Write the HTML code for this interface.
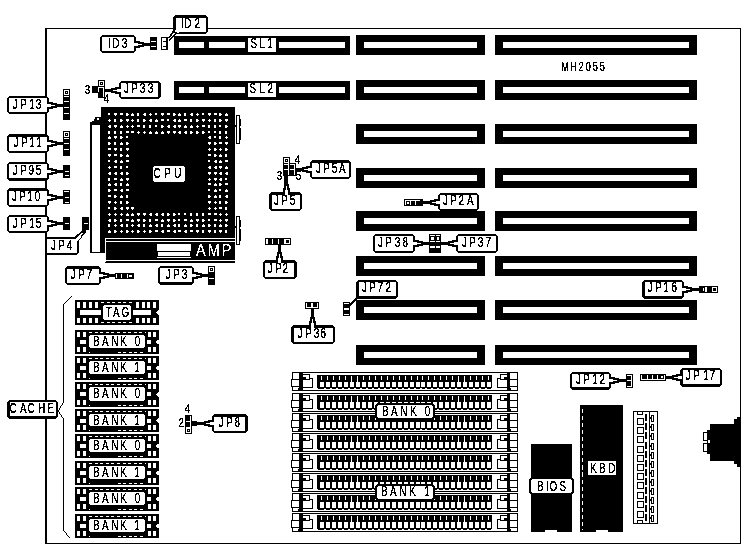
<!DOCTYPE html>
<html><head><meta charset="utf-8"><title>MH2055</title>
<style>
html,body{margin:0;padding:0;background:#fff;}
body{width:746px;height:549px;overflow:hidden;}
svg{display:block;}
svg text{font-family:"Liberation Sans",sans-serif;vector-effect:non-scaling-stroke;}
</style></head><body>
<svg width="746" height="549" viewBox="0 0 746 549" shape-rendering="crispEdges">
<defs><filter id="bw" x="0" y="0" width="100%" height="100%" color-interpolation-filters="sRGB"><feColorMatrix type="matrix" values="0.33 0.34 0.33 0 0  0.33 0.34 0.33 0 0  0.33 0.34 0.33 0 0  0 0 0 1 0"/><feComponentTransfer><feFuncR type="discrete" tableValues="0 0 0 0 0 1 1 1 1 1"/><feFuncG type="discrete" tableValues="0 0 0 0 0 1 1 1 1 1"/><feFuncB type="discrete" tableValues="0 0 0 0 0 1 1 1 1 1"/></feComponentTransfer></filter>
<filter id="tb" x="0" y="0" width="100%" height="100%" color-interpolation-filters="sRGB"><feComponentTransfer><feFuncA type="discrete" tableValues="0 0 0 0 0 0 0 0 0 1 1 1 1 1 1 1 1 1 1 1"/></feComponentTransfer></filter></defs>
<g filter="url(#bw)">
<rect x="0" y="0" width="746" height="549" fill="#fff"/>
<rect x="45" y="28" width="2" height="516" fill="#000"/>
<rect x="45" y="28" width="696" height="1" fill="#000"/>
<rect x="740" y="28" width="1" height="516" fill="#000"/>
<rect x="45" y="543" width="696" height="1" fill="#000"/>
<rect x="356" y="35" width="129" height="20" fill="#000"/>
<rect x="364" y="42" width="113" height="6" fill="#fff"/>
<rect x="495" y="35" width="202" height="20" fill="#000"/>
<rect x="503" y="42" width="186" height="6" fill="#fff"/>
<rect x="356" y="80" width="129" height="20" fill="#000"/>
<rect x="364" y="87" width="113" height="6" fill="#fff"/>
<rect x="495" y="80" width="202" height="20" fill="#000"/>
<rect x="503" y="87" width="186" height="6" fill="#fff"/>
<rect x="356" y="124" width="129" height="20" fill="#000"/>
<rect x="364" y="131" width="113" height="6" fill="#fff"/>
<rect x="495" y="124" width="202" height="20" fill="#000"/>
<rect x="503" y="131" width="186" height="6" fill="#fff"/>
<rect x="356" y="168" width="129" height="20" fill="#000"/>
<rect x="364" y="175" width="113" height="6" fill="#fff"/>
<rect x="495" y="168" width="202" height="20" fill="#000"/>
<rect x="503" y="175" width="186" height="6" fill="#fff"/>
<rect x="356" y="211" width="129" height="20" fill="#000"/>
<rect x="364" y="218" width="113" height="6" fill="#fff"/>
<rect x="495" y="211" width="202" height="20" fill="#000"/>
<rect x="503" y="218" width="186" height="6" fill="#fff"/>
<rect x="356" y="256" width="129" height="20" fill="#000"/>
<rect x="364" y="263" width="113" height="6" fill="#fff"/>
<rect x="495" y="256" width="202" height="20" fill="#000"/>
<rect x="503" y="263" width="186" height="6" fill="#fff"/>
<rect x="356" y="300" width="129" height="20" fill="#000"/>
<rect x="364" y="307" width="113" height="6" fill="#fff"/>
<rect x="495" y="300" width="202" height="20" fill="#000"/>
<rect x="503" y="307" width="186" height="6" fill="#fff"/>
<rect x="356" y="345" width="129" height="20" fill="#000"/>
<rect x="364" y="352" width="113" height="6" fill="#fff"/>
<rect x="495" y="345" width="202" height="20" fill="#000"/>
<rect x="503" y="352" width="186" height="6" fill="#fff"/>
<rect x="174" y="36" width="176" height="19" fill="#000"/>
<rect x="179" y="42" width="25" height="6" fill="#fff"/>
<rect x="209" y="42" width="136" height="6" fill="#fff"/>
<rect x="245" y="42" width="34" height="6" fill="#000"/>
<rect x="248" y="38" width="28" height="13.6" fill="#fff"/>
<rect x="174" y="81" width="176" height="19" fill="#000"/>
<rect x="179" y="87" width="25" height="6" fill="#fff"/>
<rect x="209" y="87" width="136" height="6" fill="#fff"/>
<rect x="245" y="87" width="34" height="6" fill="#000"/>
<rect x="248" y="83" width="28" height="14" fill="#fff"/>
<rect x="101" y="107" width="134" height="131" fill="#000"/>
<rect x="90" y="122" width="11" height="131" fill="#000"/>
<rect x="92" y="125" width="8" height="127" fill="#fff"/>
<rect x="90" y="123" width="11" height="2" fill="#000"/>
<rect x="92" y="121" width="9" height="2" fill="#000"/>
<rect x="94" y="119" width="7" height="2" fill="#000"/>
<rect x="95" y="117" width="6" height="2" fill="#000"/>
<rect x="97" y="118" width="2" height="2" fill="#fff"/>
<rect x="100" y="238" width="5" height="15" fill="#000"/>
<rect x="236" y="115" width="4" height="29" fill="#000"/>
<rect x="237" y="116" width="2" height="27" fill="#fff"/>
<rect x="240" y="119" width="1" height="7" fill="#000"/>
<rect x="240" y="128" width="1" height="12" fill="#000"/>
<rect x="235" y="125" width="1" height="2" fill="#000"/>
<rect x="236" y="216" width="4" height="29" fill="#000"/>
<rect x="237" y="217" width="2" height="27" fill="#fff"/>
<rect x="240" y="220" width="1" height="7" fill="#000"/>
<rect x="240" y="229" width="1" height="12" fill="#000"/>
<rect x="235" y="226" width="1" height="2" fill="#000"/>
<path d="M108 113h2v2h-2zM109 119h1v3h-1zM108 120h3v1h-3zM108 126h1v1h-1zM109 125h2v3h-2zM108 131h2v3h-2zM109 136h1v1h-1zM108 137h3v2h-3zM108 142h2v3h-2zM110 143h1v1h-1zM108 148h3v2h-3zM108 154h3v2h-3zM109 156h1v1h-1zM108 160h2v2h-2zM109 166h1v3h-1zM108 167h3v1h-3zM108 173h1v1h-1zM109 172h2v3h-2zM108 178h2v3h-2zM109 183h1v1h-1zM108 184h3v2h-3zM108 189h2v3h-2zM110 190h1v1h-1zM108 195h3v2h-3zM108 201h3v2h-3zM109 203h1v1h-1zM108 207h2v2h-2zM109 213h1v3h-1zM108 214h3v1h-3zM108 220h1v1h-1zM109 219h2v3h-2zM108 224h2v3h-2zM109 230h1v1h-1zM108 231h3v2h-3zM114 113h3v2h-3zM115 115h1v1h-1zM114 119h2v3h-2zM114 125h3v2h-3zM115 127h1v1h-1zM114 131h2v3h-2zM114 136h3v2h-3zM115 138h1v1h-1zM114 142h2v3h-2zM114 148h3v2h-3zM115 150h1v1h-1zM114 154h3v2h-3zM114 161h1v1h-1zM115 160h2v3h-2zM114 166h3v2h-3zM114 173h1v1h-1zM115 172h2v3h-2zM114 178h3v2h-3zM114 184h1v1h-1zM115 183h2v3h-2zM114 189h3v2h-3zM114 195h2v3h-2zM116 196h1v1h-1zM115 201h1v3h-1zM114 202h3v1h-3zM114 207h2v3h-2zM116 208h1v1h-1zM115 213h1v3h-1zM114 214h3v1h-3zM114 219h2v3h-2zM116 220h1v1h-1zM115 224h1v3h-1zM114 225h3v1h-3zM114 230h2v3h-2zM116 231h1v1h-1zM120 113h3v2h-3zM120 119h2v3h-2zM122 120h1v1h-1zM121 125h1v1h-1zM120 126h3v2h-3zM120 131h2v3h-2zM120 136h2v3h-2zM122 137h1v1h-1zM121 142h1v1h-1zM120 143h3v2h-3zM120 148h2v3h-2zM120 154h2v3h-2zM122 155h1v1h-1zM121 160h1v1h-1zM120 161h3v2h-3zM120 166h2v3h-2zM120 173h1v1h-1zM121 172h2v3h-2zM121 178h1v1h-1zM120 179h3v2h-3zM120 183h2v3h-2zM120 190h1v1h-1zM121 189h2v3h-2zM121 195h1v1h-1zM120 196h3v2h-3zM120 201h2v3h-2zM120 208h1v1h-1zM121 207h2v3h-2zM121 213h1v3h-1zM120 214h3v1h-3zM120 219h2v3h-2zM120 225h1v1h-1zM121 224h2v3h-2zM121 230h1v3h-1zM120 231h3v1h-3zM126 113h2v3h-2zM128 114h1v1h-1zM126 119h3v2h-3zM127 121h1v1h-1zM127 125h1v3h-1zM126 126h3v1h-3zM126 131h3v2h-3zM126 136h2v2h-2zM126 142h2v3h-2zM128 143h1v1h-1zM126 148h3v2h-3zM127 150h1v1h-1zM127 154h1v1h-1zM126 155h3v2h-3zM126 160h3v2h-3zM126 166h2v2h-2zM126 172h2v3h-2zM128 173h1v1h-1zM126 178h3v2h-3zM127 180h1v1h-1zM127 183h1v1h-1zM126 184h3v2h-3zM126 189h3v2h-3zM126 195h2v3h-2zM126 201h2v3h-2zM128 202h1v1h-1zM126 207h3v2h-3zM127 209h1v1h-1zM127 213h1v1h-1zM126 214h3v2h-3zM126 219h3v2h-3zM126 224h2v3h-2zM126 230h2v3h-2zM128 231h1v1h-1zM132 113h1v1h-1zM131 114h3v2h-3zM132 119h1v3h-1zM131 120h3v1h-3zM132 125h1v3h-1zM131 126h3v1h-3zM131 131h3v2h-3zM131 207h3v2h-3zM132 209h1v1h-1zM132 213h1v1h-1zM131 214h3v2h-3zM132 219h1v1h-1zM131 220h3v2h-3zM132 224h1v3h-1zM131 225h3v1h-3zM132 230h1v3h-1zM131 231h3v1h-3zM137 113h2v3h-2zM137 119h2v3h-2zM137 125h3v2h-3zM138 131h1v3h-1zM137 132h3v1h-3zM137 213h3v2h-3zM138 215h1v1h-1zM137 219h3v2h-3zM138 221h1v1h-1zM137 225h1v1h-1zM138 224h2v3h-2zM137 230h2v3h-2zM139 231h1v1h-1zM143 114h1v1h-1zM144 113h2v3h-2zM143 119h2v3h-2zM145 120h1v1h-1zM143 125h2v3h-2zM144 131h1v3h-1zM143 132h3v1h-3zM143 213h3v2h-3zM144 215h1v1h-1zM143 219h2v3h-2zM145 220h1v1h-1zM143 224h2v3h-2zM144 230h1v3h-1zM143 231h3v1h-3zM150 113h1v3h-1zM149 114h3v1h-3zM149 120h1v1h-1zM150 119h2v3h-2zM149 125h2v3h-2zM150 131h1v1h-1zM149 132h3v2h-3zM149 214h1v1h-1zM150 213h2v3h-2zM149 219h2v3h-2zM150 224h1v1h-1zM149 225h3v2h-3zM149 230h2v3h-2zM151 231h1v1h-1zM155 113h2v2h-2zM156 119h1v1h-1zM155 120h3v2h-3zM155 125h2v2h-2zM156 131h1v1h-1zM155 132h3v2h-3zM155 214h1v1h-1zM156 213h2v3h-2zM155 219h3v2h-3zM155 225h1v1h-1zM156 224h2v3h-2zM155 230h3v2h-3zM161 113h3v2h-3zM162 115h1v1h-1zM161 119h3v2h-3zM161 125h2v3h-2zM163 126h1v1h-1zM162 131h1v1h-1zM161 132h3v2h-3zM161 214h1v1h-1zM162 213h2v3h-2zM162 219h1v1h-1zM161 220h3v2h-3zM161 224h2v3h-2zM161 231h1v1h-1zM162 230h2v3h-2zM167 113h3v2h-3zM167 119h2v2h-2zM167 126h1v1h-1zM168 125h2v3h-2zM167 131h3v2h-3zM168 133h1v1h-1zM167 213h2v3h-2zM169 214h1v1h-1zM167 219h3v2h-3zM168 221h1v1h-1zM168 224h1v1h-1zM167 225h3v2h-3zM167 230h3v2h-3zM173 113h2v3h-2zM175 114h1v1h-1zM173 120h1v1h-1zM174 119h2v3h-2zM173 126h1v1h-1zM174 125h2v3h-2zM173 131h3v2h-3zM174 133h1v1h-1zM173 213h2v3h-2zM175 214h1v1h-1zM173 219h2v3h-2zM175 220h1v1h-1zM173 225h1v1h-1zM174 224h2v3h-2zM173 231h1v1h-1zM174 230h2v3h-2zM179 113h1v1h-1zM178 114h3v2h-3zM179 119h1v1h-1zM178 120h3v2h-3zM178 125h3v2h-3zM179 127h1v1h-1zM178 132h1v1h-1zM179 131h2v3h-2zM178 213h2v2h-2zM178 219h2v2h-2zM178 224h2v3h-2zM178 230h3v2h-3zM184 113h2v3h-2zM184 119h3v2h-3zM185 125h1v1h-1zM184 126h3v2h-3zM184 132h1v1h-1zM185 131h2v3h-2zM184 213h2v2h-2zM184 219h3v2h-3zM185 224h1v1h-1zM184 225h3v2h-3zM184 231h1v1h-1zM185 230h2v3h-2zM190 114h1v1h-1zM191 113h2v3h-2zM190 119h2v3h-2zM191 125h1v1h-1zM190 126h3v2h-3zM190 131h2v3h-2zM192 132h1v1h-1zM190 213h2v3h-2zM191 219h1v1h-1zM190 220h3v2h-3zM190 224h2v3h-2zM192 225h1v1h-1zM190 230h3v2h-3zM197 113h1v3h-1zM196 114h3v1h-3zM196 119h2v3h-2zM198 120h1v1h-1zM197 125h1v3h-1zM196 126h3v1h-3zM196 131h2v3h-2zM198 132h1v1h-1zM196 213h2v3h-2zM196 219h3v2h-3zM197 221h1v1h-1zM196 224h2v3h-2zM196 230h3v2h-3zM197 232h1v1h-1zM202 113h2v2h-2zM202 119h3v2h-3zM203 121h1v1h-1zM202 125h3v2h-3zM202 131h2v3h-2zM204 132h1v1h-1zM202 213h2v3h-2zM202 219h2v3h-2zM204 220h1v1h-1zM203 224h1v1h-1zM202 225h3v2h-3zM202 230h2v3h-2zM208 113h3v2h-3zM209 115h1v1h-1zM209 119h1v3h-1zM208 120h3v1h-3zM208 125h2v3h-2zM208 131h2v2h-2zM208 137h1v1h-1zM209 136h2v3h-2zM208 142h3v2h-3zM209 144h1v1h-1zM209 148h1v3h-1zM208 149h3v1h-3zM208 154h3v2h-3zM208 160h2v2h-2zM208 167h1v1h-1zM209 166h2v3h-2zM208 172h3v2h-3zM209 174h1v1h-1zM209 178h1v3h-1zM208 179h3v1h-3zM208 183h3v2h-3zM208 189h2v2h-2zM208 195h2v3h-2zM210 196h1v1h-1zM208 201h3v2h-3zM209 203h1v1h-1zM209 207h1v3h-1zM208 208h3v1h-3zM208 213h3v2h-3zM208 219h2v2h-2zM208 224h2v3h-2zM210 225h1v1h-1zM208 230h3v2h-3zM209 232h1v1h-1zM214 113h3v2h-3zM214 119h2v3h-2zM214 125h2v3h-2zM214 131h2v2h-2zM214 136h2v2h-2zM214 142h2v3h-2zM216 143h1v1h-1zM214 148h2v3h-2zM216 149h1v1h-1zM214 154h2v3h-2zM216 155h1v1h-1zM214 161h1v1h-1zM215 160h2v3h-2zM214 167h1v1h-1zM215 166h2v3h-2zM214 172h3v2h-3zM215 174h1v1h-1zM214 178h3v2h-3zM215 180h1v1h-1zM215 183h1v1h-1zM214 184h3v2h-3zM215 189h1v1h-1zM214 190h3v2h-3zM215 195h1v1h-1zM214 196h3v2h-3zM215 201h1v3h-1zM214 202h3v1h-3zM215 207h1v3h-1zM214 208h3v1h-3zM214 213h3v2h-3zM214 219h3v2h-3zM214 224h2v3h-2zM214 230h2v3h-2zM219 113h2v3h-2zM221 114h1v1h-1zM219 119h2v3h-2zM221 120h1v1h-1zM219 125h2v2h-2zM219 131h2v3h-2zM219 136h2v3h-2zM219 142h3v2h-3zM220 148h1v3h-1zM219 149h3v1h-3zM220 154h1v1h-1zM219 155h3v2h-3zM220 160h1v1h-1zM219 161h3v2h-3zM219 166h3v2h-3zM220 168h1v1h-1zM219 173h1v1h-1zM220 172h2v3h-2zM219 179h1v1h-1zM220 178h2v3h-2zM219 183h2v3h-2zM221 184h1v1h-1zM219 189h2v2h-2zM219 195h2v3h-2zM219 201h2v3h-2zM219 207h3v2h-3zM220 213h1v3h-1zM219 214h3v1h-3zM220 219h1v3h-1zM219 220h3v1h-3zM220 224h1v1h-1zM219 225h3v2h-3zM219 230h3v2h-3zM220 232h1v1h-1zM226 113h1v1h-1zM225 114h3v2h-3zM225 119h3v2h-3zM226 121h1v1h-1zM225 125h2v3h-2zM227 126h1v1h-1zM225 131h2v3h-2zM226 136h1v3h-1zM225 137h3v1h-3zM225 142h3v2h-3zM226 144h1v1h-1zM225 148h2v3h-2zM227 149h1v1h-1zM225 154h2v3h-2zM225 160h3v2h-3zM226 166h1v1h-1zM225 167h3v2h-3zM225 173h1v1h-1zM226 172h2v3h-2zM225 178h2v2h-2zM225 183h3v2h-3zM226 189h1v1h-1zM225 190h3v2h-3zM225 196h1v1h-1zM226 195h2v3h-2zM225 201h2v3h-2zM227 202h1v1h-1zM225 207h2v3h-2zM226 213h1v3h-1zM225 214h3v1h-3zM225 219h3v2h-3zM226 221h1v1h-1zM225 224h2v3h-2zM227 225h1v1h-1zM225 230h2v3h-2z" fill="#fff"/>
<rect x="153" y="166" width="32" height="16" rx="2" ry="2" fill="#fff" shape-rendering="auto"/>
<rect x="105" y="238" width="130" height="25" fill="#000"/>
<rect x="105" y="238" width="130" height="1" fill="#fff"/>
<rect x="105" y="239" width="1" height="22" fill="#fff"/>
<rect x="106" y="241" width="129" height="1" fill="#fff"/>
<rect x="106" y="260" width="129" height="1" fill="#fff"/>
<rect x="105" y="261" width="1" height="1" fill="#fff"/>
<rect x="157" y="244" width="34" height="7" fill="#fff"/>
<rect x="158" y="252" width="32" height="4" fill="#fff"/>
<rect x="157" y="257" width="34" height="1" fill="#fff"/>
<rect x="75" y="300" width="84" height="25" fill="#000"/>
<polygon points="159.5,309.5 156,312 156,313 159.5,315.5" fill="#fff" stroke="none" stroke-width="1" stroke-linejoin="miter" shape-rendering="auto"/>
<rect x="77" y="302" width="3" height="6" fill="#fff"/>
<rect x="77" y="318" width="3" height="5" fill="#fff"/>
<rect x="83" y="302" width="3" height="6" fill="#fff"/>
<rect x="83" y="318" width="3" height="5" fill="#fff"/>
<rect x="89" y="302" width="3" height="6" fill="#fff"/>
<rect x="89" y="318" width="3" height="5" fill="#fff"/>
<rect x="95" y="302" width="3" height="6" fill="#fff"/>
<rect x="95" y="318" width="3" height="5" fill="#fff"/>
<rect x="136" y="302" width="3" height="6" fill="#fff"/>
<rect x="136" y="318" width="3" height="5" fill="#fff"/>
<rect x="142" y="302" width="3" height="6" fill="#fff"/>
<rect x="142" y="318" width="3" height="5" fill="#fff"/>
<rect x="147" y="302" width="3" height="6" fill="#fff"/>
<rect x="147" y="318" width="3" height="5" fill="#fff"/>
<rect x="153" y="302" width="3" height="6" fill="#fff"/>
<rect x="153" y="318" width="3" height="5" fill="#fff"/>
<rect x="80" y="310" width="21" height="5" fill="#fff"/>
<rect x="133" y="310" width="18" height="5" fill="#fff"/>
<line x1="101" y1="302.5" x2="133" y2="302.5" stroke="#fff" stroke-width="1" stroke-dasharray="3 2.6"/>
<line x1="101" y1="322.5" x2="133" y2="322.5" stroke="#fff" stroke-width="1" stroke-dasharray="3 2.6"/>
<rect x="103" y="303" width="28" height="19" fill="#000"/>
<rect x="102" y="304" width="30" height="17" fill="#000"/>
<rect x="101" y="305" width="32" height="15" fill="#000"/>
<rect x="104" y="305" width="26" height="15" fill="#fff"/>
<rect x="103" y="306" width="28" height="13" fill="#fff"/>
<rect x="75" y="330" width="84" height="24" fill="#000"/>
<polygon points="159.5,339 156,341.5 156,342.5 159.5,345" fill="#fff" stroke="none" stroke-width="1" stroke-linejoin="miter" shape-rendering="auto"/>
<rect x="77" y="332" width="3" height="5" fill="#fff"/>
<rect x="77" y="347" width="3" height="5" fill="#fff"/>
<rect x="83" y="332" width="3" height="5" fill="#fff"/>
<rect x="83" y="347" width="3" height="5" fill="#fff"/>
<rect x="148" y="332" width="3" height="5" fill="#fff"/>
<rect x="148" y="347" width="3" height="5" fill="#fff"/>
<rect x="153" y="332" width="3" height="5" fill="#fff"/>
<rect x="153" y="347" width="3" height="5" fill="#fff"/>
<rect x="80" y="340" width="6" height="4" fill="#fff"/>
<rect x="147" y="340" width="4" height="4" fill="#fff"/>
<line x1="89" y1="332.5" x2="146" y2="332.5" stroke="#fff" stroke-width="1" stroke-dasharray="3 2.6"/>
<line x1="117.6" y1="352.5" x2="146" y2="352.5" stroke="#fff" stroke-width="1" stroke-dasharray="3 2.6"/>
<rect x="89" y="351.5" width="1" height="1" fill="#fff"/>
<rect x="90" y="333" width="55" height="17" fill="#000"/>
<rect x="89" y="334" width="57" height="15" fill="#000"/>
<rect x="88" y="335" width="59" height="13" fill="#000"/>
<rect x="90" y="335" width="54" height="13" fill="#fff"/>
<rect x="89" y="336" width="56" height="11" fill="#fff"/>
<rect x="75" y="356" width="84" height="24" fill="#000"/>
<polygon points="159.5,365 156,367.5 156,368.5 159.5,371" fill="#fff" stroke="none" stroke-width="1" stroke-linejoin="miter" shape-rendering="auto"/>
<rect x="77" y="358" width="3" height="5" fill="#fff"/>
<rect x="77" y="373" width="3" height="5" fill="#fff"/>
<rect x="83" y="358" width="3" height="5" fill="#fff"/>
<rect x="83" y="373" width="3" height="5" fill="#fff"/>
<rect x="148" y="358" width="3" height="5" fill="#fff"/>
<rect x="148" y="373" width="3" height="5" fill="#fff"/>
<rect x="153" y="358" width="3" height="5" fill="#fff"/>
<rect x="153" y="373" width="3" height="5" fill="#fff"/>
<rect x="80" y="366" width="6" height="4" fill="#fff"/>
<rect x="147" y="366" width="4" height="4" fill="#fff"/>
<line x1="89" y1="358.5" x2="146" y2="358.5" stroke="#fff" stroke-width="1" stroke-dasharray="3 2.6"/>
<line x1="117.6" y1="378.5" x2="146" y2="378.5" stroke="#fff" stroke-width="1" stroke-dasharray="3 2.6"/>
<rect x="89" y="377.5" width="1" height="1" fill="#fff"/>
<rect x="90" y="359" width="55" height="17" fill="#000"/>
<rect x="89" y="360" width="57" height="15" fill="#000"/>
<rect x="88" y="361" width="59" height="13" fill="#000"/>
<rect x="90" y="361" width="54" height="13" fill="#fff"/>
<rect x="89" y="362" width="56" height="11" fill="#fff"/>
<rect x="75" y="382" width="84" height="25" fill="#000"/>
<polygon points="159.5,391.5 156,394 156,395 159.5,397.5" fill="#fff" stroke="none" stroke-width="1" stroke-linejoin="miter" shape-rendering="auto"/>
<rect x="77" y="384" width="3" height="5" fill="#fff"/>
<rect x="77" y="400" width="3" height="5" fill="#fff"/>
<rect x="83" y="384" width="3" height="5" fill="#fff"/>
<rect x="83" y="400" width="3" height="5" fill="#fff"/>
<rect x="148" y="384" width="3" height="5" fill="#fff"/>
<rect x="148" y="400" width="3" height="5" fill="#fff"/>
<rect x="153" y="384" width="3" height="5" fill="#fff"/>
<rect x="153" y="400" width="3" height="5" fill="#fff"/>
<rect x="80" y="392" width="6" height="4" fill="#fff"/>
<rect x="147" y="392" width="4" height="4" fill="#fff"/>
<line x1="89" y1="384.5" x2="146" y2="384.5" stroke="#fff" stroke-width="1" stroke-dasharray="3 2.6"/>
<line x1="117.6" y1="405.5" x2="146" y2="405.5" stroke="#fff" stroke-width="1" stroke-dasharray="3 2.6"/>
<rect x="89" y="404.5" width="1" height="1" fill="#fff"/>
<rect x="90" y="385" width="55" height="18" fill="#000"/>
<rect x="89" y="386" width="57" height="16" fill="#000"/>
<rect x="88" y="387" width="59" height="14" fill="#000"/>
<rect x="90" y="387" width="54" height="14" fill="#fff"/>
<rect x="89" y="388" width="56" height="12" fill="#fff"/>
<rect x="75" y="409" width="84" height="23" fill="#000"/>
<polygon points="159.5,417.5 156,420 156,421 159.5,423.5" fill="#fff" stroke="none" stroke-width="1" stroke-linejoin="miter" shape-rendering="auto"/>
<rect x="77" y="411" width="3" height="5" fill="#fff"/>
<rect x="77" y="425" width="3" height="5" fill="#fff"/>
<rect x="83" y="411" width="3" height="5" fill="#fff"/>
<rect x="83" y="425" width="3" height="5" fill="#fff"/>
<rect x="148" y="411" width="3" height="5" fill="#fff"/>
<rect x="148" y="425" width="3" height="5" fill="#fff"/>
<rect x="153" y="411" width="3" height="5" fill="#fff"/>
<rect x="153" y="425" width="3" height="5" fill="#fff"/>
<rect x="80" y="419" width="6" height="4" fill="#fff"/>
<rect x="147" y="419" width="4" height="4" fill="#fff"/>
<line x1="89" y1="411.5" x2="146" y2="411.5" stroke="#fff" stroke-width="1" stroke-dasharray="3 2.6"/>
<line x1="117.6" y1="430.5" x2="146" y2="430.5" stroke="#fff" stroke-width="1" stroke-dasharray="3 2.6"/>
<rect x="89" y="429.5" width="1" height="1" fill="#fff"/>
<rect x="90" y="412" width="55" height="16" fill="#000"/>
<rect x="89" y="413" width="57" height="14" fill="#000"/>
<rect x="88" y="414" width="59" height="12" fill="#000"/>
<rect x="90" y="414" width="54" height="12" fill="#fff"/>
<rect x="89" y="415" width="56" height="10" fill="#fff"/>
<rect x="75" y="434" width="84" height="24" fill="#000"/>
<polygon points="159.5,443 156,445.5 156,446.5 159.5,449" fill="#fff" stroke="none" stroke-width="1" stroke-linejoin="miter" shape-rendering="auto"/>
<rect x="77" y="436" width="3" height="5" fill="#fff"/>
<rect x="77" y="451" width="3" height="5" fill="#fff"/>
<rect x="83" y="436" width="3" height="5" fill="#fff"/>
<rect x="83" y="451" width="3" height="5" fill="#fff"/>
<rect x="148" y="436" width="3" height="5" fill="#fff"/>
<rect x="148" y="451" width="3" height="5" fill="#fff"/>
<rect x="153" y="436" width="3" height="5" fill="#fff"/>
<rect x="153" y="451" width="3" height="5" fill="#fff"/>
<rect x="80" y="444" width="6" height="4" fill="#fff"/>
<rect x="147" y="444" width="4" height="4" fill="#fff"/>
<line x1="89" y1="436.5" x2="146" y2="436.5" stroke="#fff" stroke-width="1" stroke-dasharray="3 2.6"/>
<line x1="117.6" y1="456.5" x2="146" y2="456.5" stroke="#fff" stroke-width="1" stroke-dasharray="3 2.6"/>
<rect x="89" y="455.5" width="1" height="1" fill="#fff"/>
<rect x="90" y="437" width="55" height="17" fill="#000"/>
<rect x="89" y="438" width="57" height="15" fill="#000"/>
<rect x="88" y="439" width="59" height="13" fill="#000"/>
<rect x="90" y="439" width="54" height="13" fill="#fff"/>
<rect x="89" y="440" width="56" height="11" fill="#fff"/>
<rect x="75" y="461" width="84" height="24" fill="#000"/>
<polygon points="159.5,470 156,472.5 156,473.5 159.5,476" fill="#fff" stroke="none" stroke-width="1" stroke-linejoin="miter" shape-rendering="auto"/>
<rect x="77" y="463" width="3" height="5" fill="#fff"/>
<rect x="77" y="478" width="3" height="5" fill="#fff"/>
<rect x="83" y="463" width="3" height="5" fill="#fff"/>
<rect x="83" y="478" width="3" height="5" fill="#fff"/>
<rect x="148" y="463" width="3" height="5" fill="#fff"/>
<rect x="148" y="478" width="3" height="5" fill="#fff"/>
<rect x="153" y="463" width="3" height="5" fill="#fff"/>
<rect x="153" y="478" width="3" height="5" fill="#fff"/>
<rect x="80" y="471" width="6" height="4" fill="#fff"/>
<rect x="147" y="471" width="4" height="4" fill="#fff"/>
<line x1="89" y1="463.5" x2="146" y2="463.5" stroke="#fff" stroke-width="1" stroke-dasharray="3 2.6"/>
<line x1="117.6" y1="483.5" x2="146" y2="483.5" stroke="#fff" stroke-width="1" stroke-dasharray="3 2.6"/>
<rect x="89" y="482.5" width="1" height="1" fill="#fff"/>
<rect x="90" y="464" width="55" height="17" fill="#000"/>
<rect x="89" y="465" width="57" height="15" fill="#000"/>
<rect x="88" y="466" width="59" height="13" fill="#000"/>
<rect x="90" y="466" width="54" height="13" fill="#fff"/>
<rect x="89" y="467" width="56" height="11" fill="#fff"/>
<rect x="75" y="487" width="84" height="24" fill="#000"/>
<polygon points="159.5,496 156,498.5 156,499.5 159.5,502" fill="#fff" stroke="none" stroke-width="1" stroke-linejoin="miter" shape-rendering="auto"/>
<rect x="77" y="489" width="3" height="5" fill="#fff"/>
<rect x="77" y="504" width="3" height="5" fill="#fff"/>
<rect x="83" y="489" width="3" height="5" fill="#fff"/>
<rect x="83" y="504" width="3" height="5" fill="#fff"/>
<rect x="148" y="489" width="3" height="5" fill="#fff"/>
<rect x="148" y="504" width="3" height="5" fill="#fff"/>
<rect x="153" y="489" width="3" height="5" fill="#fff"/>
<rect x="153" y="504" width="3" height="5" fill="#fff"/>
<rect x="80" y="497" width="6" height="4" fill="#fff"/>
<rect x="147" y="497" width="4" height="4" fill="#fff"/>
<line x1="89" y1="489.5" x2="146" y2="489.5" stroke="#fff" stroke-width="1" stroke-dasharray="3 2.6"/>
<line x1="117.6" y1="509.5" x2="146" y2="509.5" stroke="#fff" stroke-width="1" stroke-dasharray="3 2.6"/>
<rect x="89" y="508.5" width="1" height="1" fill="#fff"/>
<rect x="90" y="490" width="55" height="17" fill="#000"/>
<rect x="89" y="491" width="57" height="15" fill="#000"/>
<rect x="88" y="492" width="59" height="13" fill="#000"/>
<rect x="90" y="492" width="54" height="13" fill="#fff"/>
<rect x="89" y="493" width="56" height="11" fill="#fff"/>
<rect x="75" y="514" width="84" height="24" fill="#000"/>
<polygon points="159.5,523 156,525.5 156,526.5 159.5,529" fill="#fff" stroke="none" stroke-width="1" stroke-linejoin="miter" shape-rendering="auto"/>
<rect x="77" y="516" width="3" height="5" fill="#fff"/>
<rect x="77" y="531" width="3" height="5" fill="#fff"/>
<rect x="83" y="516" width="3" height="5" fill="#fff"/>
<rect x="83" y="531" width="3" height="5" fill="#fff"/>
<rect x="148" y="516" width="3" height="5" fill="#fff"/>
<rect x="148" y="531" width="3" height="5" fill="#fff"/>
<rect x="153" y="516" width="3" height="5" fill="#fff"/>
<rect x="153" y="531" width="3" height="5" fill="#fff"/>
<rect x="80" y="524" width="6" height="4" fill="#fff"/>
<rect x="147" y="524" width="4" height="4" fill="#fff"/>
<line x1="89" y1="516.5" x2="146" y2="516.5" stroke="#fff" stroke-width="1" stroke-dasharray="3 2.6"/>
<line x1="117.6" y1="536.5" x2="146" y2="536.5" stroke="#fff" stroke-width="1" stroke-dasharray="3 2.6"/>
<rect x="89" y="535.5" width="1" height="1" fill="#fff"/>
<rect x="90" y="517" width="55" height="17" fill="#000"/>
<rect x="89" y="518" width="57" height="15" fill="#000"/>
<rect x="88" y="519" width="59" height="13" fill="#000"/>
<rect x="90" y="519" width="54" height="13" fill="#fff"/>
<rect x="89" y="520" width="56" height="11" fill="#fff"/>
<polyline points="72,296 63.5,304 63.5,402.5 58.3,410.8 63.5,419.3 63.5,530 70,538.5" fill="none" stroke="#000" stroke-width="1" shape-rendering="auto"/>
<rect x="9" y="400" width="47" height="19" fill="#000"/>
<rect x="8" y="401" width="49" height="17" fill="#000"/>
<rect x="7" y="402" width="51" height="15" fill="#000"/>
<rect x="10" y="402" width="46" height="14" fill="#fff"/>
<rect x="292" y="372" width="226" height="19" fill="#000"/>
<rect x="293" y="373" width="224" height="17" fill="#fff"/>
<rect x="299" y="372" width="4" height="17" fill="#000"/>
<rect x="298" y="388" width="5" height="1.6" fill="#000"/>
<rect x="291" y="379" width="8" height="8" fill="#000"/>
<rect x="292" y="380" width="7" height="6" fill="#fff"/>
<rect x="303" y="373.5" width="7" height="1" fill="#000"/>
<rect x="309" y="373.5" width="1" height="6.5" fill="#000"/>
<rect x="303" y="377" width="3" height="3" fill="#000"/>
<rect x="306" y="379" width="4" height="1" fill="#000"/>
<rect x="309" y="378" width="4" height="1" fill="#000"/>
<rect x="312" y="378" width="1" height="10" fill="#000"/>
<rect x="303" y="387" width="10" height="1" fill="#000"/>
<rect x="507" y="372" width="3" height="17" fill="#000"/>
<rect x="507" y="388" width="4" height="1.6" fill="#000"/>
<rect x="510" y="379" width="8" height="8" fill="#000"/>
<rect x="510" y="380" width="7" height="6" fill="#fff"/>
<rect x="500" y="373.5" width="7" height="1" fill="#000"/>
<rect x="500" y="373.5" width="1" height="6.5" fill="#000"/>
<rect x="504" y="377" width="3" height="3" fill="#000"/>
<rect x="500" y="379" width="4" height="1" fill="#000"/>
<rect x="497" y="378" width="4" height="1" fill="#000"/>
<rect x="497" y="378" width="1" height="10" fill="#000"/>
<rect x="497" y="387" width="10" height="1" fill="#000"/>
<rect x="317" y="375" width="175" height="13" fill="#000"/>
<rect x="318" y="388" width="174" height="0.6" fill="#000"/>
<rect x="321" y="376" width="1" height="4" fill="#fff"/>
<rect x="320" y="382" width="4" height="5" fill="#fff"/>
<rect x="324.2" y="388" width="1.6" height="1" fill="#fff"/>
<rect x="327" y="376" width="1" height="4" fill="#fff"/>
<rect x="326" y="382" width="4" height="5" fill="#fff"/>
<rect x="330.2" y="388" width="1.6" height="1" fill="#fff"/>
<rect x="333" y="376" width="1" height="4" fill="#fff"/>
<rect x="332" y="382" width="4" height="5" fill="#fff"/>
<rect x="336.2" y="388" width="1.6" height="1" fill="#fff"/>
<rect x="339" y="376" width="1" height="4" fill="#fff"/>
<rect x="338" y="382" width="4" height="5" fill="#fff"/>
<rect x="342.2" y="388" width="1.6" height="1" fill="#fff"/>
<rect x="345" y="376" width="1" height="4" fill="#fff"/>
<rect x="344" y="382" width="4" height="5" fill="#fff"/>
<rect x="348.2" y="388" width="1.6" height="1" fill="#fff"/>
<rect x="351" y="376" width="1" height="4" fill="#fff"/>
<rect x="350" y="382" width="4" height="5" fill="#fff"/>
<rect x="354.2" y="388" width="1.6" height="1" fill="#fff"/>
<rect x="357" y="376" width="1" height="4" fill="#fff"/>
<rect x="356" y="382" width="4" height="5" fill="#fff"/>
<rect x="360.2" y="388" width="1.6" height="1" fill="#fff"/>
<rect x="363" y="376" width="1" height="4" fill="#fff"/>
<rect x="362" y="382" width="4" height="5" fill="#fff"/>
<rect x="366.2" y="388" width="1.6" height="1" fill="#fff"/>
<rect x="369" y="376" width="1" height="4" fill="#fff"/>
<rect x="368" y="382" width="4" height="5" fill="#fff"/>
<rect x="372.2" y="388" width="1.6" height="1" fill="#fff"/>
<rect x="375" y="376" width="1" height="4" fill="#fff"/>
<rect x="374" y="382" width="4" height="5" fill="#fff"/>
<rect x="378.2" y="388" width="1.6" height="1" fill="#fff"/>
<rect x="381" y="376" width="1" height="4" fill="#fff"/>
<rect x="380" y="382" width="4" height="5" fill="#fff"/>
<rect x="384.2" y="388" width="1.6" height="1" fill="#fff"/>
<rect x="387" y="376" width="1" height="4" fill="#fff"/>
<rect x="386" y="382" width="4" height="5" fill="#fff"/>
<rect x="390.2" y="388" width="1.6" height="1" fill="#fff"/>
<rect x="393" y="376" width="1" height="4" fill="#fff"/>
<rect x="392" y="382" width="4" height="5" fill="#fff"/>
<rect x="396.2" y="388" width="1.6" height="1" fill="#fff"/>
<rect x="399" y="376" width="1" height="4" fill="#fff"/>
<rect x="398" y="382" width="4" height="5" fill="#fff"/>
<rect x="402.2" y="388" width="1.6" height="1" fill="#fff"/>
<rect x="405" y="376" width="1" height="4" fill="#fff"/>
<rect x="404" y="382" width="4" height="5" fill="#fff"/>
<rect x="408.2" y="388" width="1.6" height="1" fill="#fff"/>
<rect x="411" y="376" width="1" height="4" fill="#fff"/>
<rect x="410" y="382" width="4" height="5" fill="#fff"/>
<rect x="414.2" y="388" width="1.6" height="1" fill="#fff"/>
<rect x="417" y="376" width="1" height="4" fill="#fff"/>
<rect x="416" y="382" width="4" height="5" fill="#fff"/>
<rect x="420.2" y="388" width="1.6" height="1" fill="#fff"/>
<rect x="422" y="376" width="1" height="4" fill="#fff"/>
<rect x="421" y="382" width="4" height="5" fill="#fff"/>
<rect x="425.2" y="388" width="1.6" height="1" fill="#fff"/>
<rect x="428" y="376" width="1" height="4" fill="#fff"/>
<rect x="427" y="382" width="4" height="5" fill="#fff"/>
<rect x="431.2" y="388" width="1.6" height="1" fill="#fff"/>
<rect x="434" y="376" width="1" height="4" fill="#fff"/>
<rect x="433" y="382" width="4" height="5" fill="#fff"/>
<rect x="437.2" y="388" width="1.6" height="1" fill="#fff"/>
<rect x="440" y="376" width="1" height="4" fill="#fff"/>
<rect x="439" y="382" width="4" height="5" fill="#fff"/>
<rect x="443.2" y="388" width="1.6" height="1" fill="#fff"/>
<rect x="446" y="376" width="1" height="4" fill="#fff"/>
<rect x="445" y="382" width="4" height="5" fill="#fff"/>
<rect x="449.2" y="388" width="1.6" height="1" fill="#fff"/>
<rect x="452" y="376" width="1" height="4" fill="#fff"/>
<rect x="451" y="382" width="4" height="5" fill="#fff"/>
<rect x="455.2" y="388" width="1.6" height="1" fill="#fff"/>
<rect x="458" y="376" width="1" height="4" fill="#fff"/>
<rect x="457" y="382" width="4" height="5" fill="#fff"/>
<rect x="461.2" y="388" width="1.6" height="1" fill="#fff"/>
<rect x="464" y="376" width="1" height="4" fill="#fff"/>
<rect x="463" y="382" width="4" height="5" fill="#fff"/>
<rect x="467.2" y="388" width="1.6" height="1" fill="#fff"/>
<rect x="470" y="376" width="1" height="4" fill="#fff"/>
<rect x="469" y="382" width="4" height="5" fill="#fff"/>
<rect x="473.2" y="388" width="1.6" height="1" fill="#fff"/>
<rect x="476" y="376" width="1" height="4" fill="#fff"/>
<rect x="475" y="382" width="4" height="5" fill="#fff"/>
<rect x="479.2" y="388" width="1.6" height="1" fill="#fff"/>
<rect x="482" y="376" width="1" height="4" fill="#fff"/>
<rect x="481" y="382" width="4" height="5" fill="#fff"/>
<rect x="485.2" y="388" width="1.6" height="1" fill="#fff"/>
<rect x="488" y="376" width="1" height="4" fill="#fff"/>
<rect x="487" y="382" width="4" height="5" fill="#fff"/>
<rect x="491.2" y="388" width="1.6" height="1" fill="#fff"/>
<rect x="351" y="376" width="1" height="6" fill="#fff"/>
<rect x="357" y="376" width="1" height="6" fill="#fff"/>
<rect x="458" y="376" width="1" height="6" fill="#fff"/>
<rect x="464" y="376" width="1" height="6" fill="#fff"/>
<rect x="292" y="393" width="226" height="19" fill="#000"/>
<rect x="293" y="394" width="224" height="17" fill="#fff"/>
<rect x="299" y="393" width="4" height="17" fill="#000"/>
<rect x="298" y="409" width="5" height="1.6" fill="#000"/>
<rect x="291" y="400" width="8" height="8" fill="#000"/>
<rect x="292" y="401" width="7" height="6" fill="#fff"/>
<rect x="303" y="394.5" width="7" height="1" fill="#000"/>
<rect x="309" y="394.5" width="1" height="6.5" fill="#000"/>
<rect x="303" y="398" width="3" height="3" fill="#000"/>
<rect x="306" y="400" width="4" height="1" fill="#000"/>
<rect x="309" y="399" width="4" height="1" fill="#000"/>
<rect x="312" y="399" width="1" height="10" fill="#000"/>
<rect x="303" y="408" width="10" height="1" fill="#000"/>
<rect x="507" y="393" width="3" height="17" fill="#000"/>
<rect x="507" y="409" width="4" height="1.6" fill="#000"/>
<rect x="510" y="400" width="8" height="8" fill="#000"/>
<rect x="510" y="401" width="7" height="6" fill="#fff"/>
<rect x="500" y="394.5" width="7" height="1" fill="#000"/>
<rect x="500" y="394.5" width="1" height="6.5" fill="#000"/>
<rect x="504" y="398" width="3" height="3" fill="#000"/>
<rect x="500" y="400" width="4" height="1" fill="#000"/>
<rect x="497" y="399" width="4" height="1" fill="#000"/>
<rect x="497" y="399" width="1" height="10" fill="#000"/>
<rect x="497" y="408" width="10" height="1" fill="#000"/>
<rect x="317" y="395" width="175" height="14" fill="#000"/>
<rect x="318" y="409" width="174" height="0.6" fill="#000"/>
<rect x="321" y="396" width="1" height="4" fill="#fff"/>
<rect x="320" y="402" width="4" height="6" fill="#fff"/>
<rect x="324.2" y="409" width="1.6" height="1" fill="#fff"/>
<rect x="327" y="396" width="1" height="4" fill="#fff"/>
<rect x="326" y="402" width="4" height="6" fill="#fff"/>
<rect x="330.2" y="409" width="1.6" height="1" fill="#fff"/>
<rect x="333" y="396" width="1" height="4" fill="#fff"/>
<rect x="332" y="402" width="4" height="6" fill="#fff"/>
<rect x="336.2" y="409" width="1.6" height="1" fill="#fff"/>
<rect x="339" y="396" width="1" height="4" fill="#fff"/>
<rect x="338" y="402" width="4" height="6" fill="#fff"/>
<rect x="342.2" y="409" width="1.6" height="1" fill="#fff"/>
<rect x="345" y="396" width="1" height="4" fill="#fff"/>
<rect x="344" y="402" width="4" height="6" fill="#fff"/>
<rect x="348.2" y="409" width="1.6" height="1" fill="#fff"/>
<rect x="351" y="396" width="1" height="4" fill="#fff"/>
<rect x="350" y="402" width="4" height="6" fill="#fff"/>
<rect x="354.2" y="409" width="1.6" height="1" fill="#fff"/>
<rect x="357" y="396" width="1" height="4" fill="#fff"/>
<rect x="356" y="402" width="4" height="6" fill="#fff"/>
<rect x="360.2" y="409" width="1.6" height="1" fill="#fff"/>
<rect x="363" y="396" width="1" height="4" fill="#fff"/>
<rect x="362" y="402" width="4" height="6" fill="#fff"/>
<rect x="366.2" y="409" width="1.6" height="1" fill="#fff"/>
<rect x="369" y="396" width="1" height="4" fill="#fff"/>
<rect x="368" y="402" width="4" height="6" fill="#fff"/>
<rect x="372.2" y="409" width="1.6" height="1" fill="#fff"/>
<rect x="375" y="396" width="1" height="4" fill="#fff"/>
<rect x="374" y="402" width="4" height="6" fill="#fff"/>
<rect x="378.2" y="409" width="1.6" height="1" fill="#fff"/>
<rect x="381" y="396" width="1" height="4" fill="#fff"/>
<rect x="380" y="402" width="4" height="6" fill="#fff"/>
<rect x="384.2" y="409" width="1.6" height="1" fill="#fff"/>
<rect x="387" y="396" width="1" height="4" fill="#fff"/>
<rect x="386" y="402" width="4" height="6" fill="#fff"/>
<rect x="390.2" y="409" width="1.6" height="1" fill="#fff"/>
<rect x="393" y="396" width="1" height="4" fill="#fff"/>
<rect x="392" y="402" width="4" height="6" fill="#fff"/>
<rect x="396.2" y="409" width="1.6" height="1" fill="#fff"/>
<rect x="399" y="396" width="1" height="4" fill="#fff"/>
<rect x="398" y="402" width="4" height="6" fill="#fff"/>
<rect x="402.2" y="409" width="1.6" height="1" fill="#fff"/>
<rect x="405" y="396" width="1" height="4" fill="#fff"/>
<rect x="404" y="402" width="4" height="6" fill="#fff"/>
<rect x="408.2" y="409" width="1.6" height="1" fill="#fff"/>
<rect x="411" y="396" width="1" height="4" fill="#fff"/>
<rect x="410" y="402" width="4" height="6" fill="#fff"/>
<rect x="414.2" y="409" width="1.6" height="1" fill="#fff"/>
<rect x="417" y="396" width="1" height="4" fill="#fff"/>
<rect x="416" y="402" width="4" height="6" fill="#fff"/>
<rect x="420.2" y="409" width="1.6" height="1" fill="#fff"/>
<rect x="422" y="396" width="1" height="4" fill="#fff"/>
<rect x="421" y="402" width="4" height="6" fill="#fff"/>
<rect x="425.2" y="409" width="1.6" height="1" fill="#fff"/>
<rect x="428" y="396" width="1" height="4" fill="#fff"/>
<rect x="427" y="402" width="4" height="6" fill="#fff"/>
<rect x="431.2" y="409" width="1.6" height="1" fill="#fff"/>
<rect x="434" y="396" width="1" height="4" fill="#fff"/>
<rect x="433" y="402" width="4" height="6" fill="#fff"/>
<rect x="437.2" y="409" width="1.6" height="1" fill="#fff"/>
<rect x="440" y="396" width="1" height="4" fill="#fff"/>
<rect x="439" y="402" width="4" height="6" fill="#fff"/>
<rect x="443.2" y="409" width="1.6" height="1" fill="#fff"/>
<rect x="446" y="396" width="1" height="4" fill="#fff"/>
<rect x="445" y="402" width="4" height="6" fill="#fff"/>
<rect x="449.2" y="409" width="1.6" height="1" fill="#fff"/>
<rect x="452" y="396" width="1" height="4" fill="#fff"/>
<rect x="451" y="402" width="4" height="6" fill="#fff"/>
<rect x="455.2" y="409" width="1.6" height="1" fill="#fff"/>
<rect x="458" y="396" width="1" height="4" fill="#fff"/>
<rect x="457" y="402" width="4" height="6" fill="#fff"/>
<rect x="461.2" y="409" width="1.6" height="1" fill="#fff"/>
<rect x="464" y="396" width="1" height="4" fill="#fff"/>
<rect x="463" y="402" width="4" height="6" fill="#fff"/>
<rect x="467.2" y="409" width="1.6" height="1" fill="#fff"/>
<rect x="470" y="396" width="1" height="4" fill="#fff"/>
<rect x="469" y="402" width="4" height="6" fill="#fff"/>
<rect x="473.2" y="409" width="1.6" height="1" fill="#fff"/>
<rect x="476" y="396" width="1" height="4" fill="#fff"/>
<rect x="475" y="402" width="4" height="6" fill="#fff"/>
<rect x="479.2" y="409" width="1.6" height="1" fill="#fff"/>
<rect x="482" y="396" width="1" height="4" fill="#fff"/>
<rect x="481" y="402" width="4" height="6" fill="#fff"/>
<rect x="485.2" y="409" width="1.6" height="1" fill="#fff"/>
<rect x="488" y="396" width="1" height="4" fill="#fff"/>
<rect x="487" y="402" width="4" height="6" fill="#fff"/>
<rect x="491.2" y="409" width="1.6" height="1" fill="#fff"/>
<rect x="351" y="396" width="1" height="6" fill="#fff"/>
<rect x="357" y="396" width="1" height="6" fill="#fff"/>
<rect x="458" y="396" width="1" height="6" fill="#fff"/>
<rect x="464" y="396" width="1" height="6" fill="#fff"/>
<rect x="292" y="413" width="226" height="19" fill="#000"/>
<rect x="293" y="414" width="224" height="17" fill="#fff"/>
<rect x="299" y="413" width="4" height="17" fill="#000"/>
<rect x="298" y="429" width="5" height="1.6" fill="#000"/>
<rect x="291" y="420" width="8" height="8" fill="#000"/>
<rect x="292" y="421" width="7" height="6" fill="#fff"/>
<rect x="303" y="414.5" width="7" height="1" fill="#000"/>
<rect x="309" y="414.5" width="1" height="6.5" fill="#000"/>
<rect x="303" y="418" width="3" height="3" fill="#000"/>
<rect x="306" y="420" width="4" height="1" fill="#000"/>
<rect x="309" y="419" width="4" height="1" fill="#000"/>
<rect x="312" y="419" width="1" height="10" fill="#000"/>
<rect x="303" y="428" width="10" height="1" fill="#000"/>
<rect x="507" y="413" width="3" height="17" fill="#000"/>
<rect x="507" y="429" width="4" height="1.6" fill="#000"/>
<rect x="510" y="420" width="8" height="8" fill="#000"/>
<rect x="510" y="421" width="7" height="6" fill="#fff"/>
<rect x="500" y="414.5" width="7" height="1" fill="#000"/>
<rect x="500" y="414.5" width="1" height="6.5" fill="#000"/>
<rect x="504" y="418" width="3" height="3" fill="#000"/>
<rect x="500" y="420" width="4" height="1" fill="#000"/>
<rect x="497" y="419" width="4" height="1" fill="#000"/>
<rect x="497" y="419" width="1" height="10" fill="#000"/>
<rect x="497" y="428" width="10" height="1" fill="#000"/>
<rect x="317" y="415" width="175" height="14" fill="#000"/>
<rect x="318" y="429" width="174" height="0.6" fill="#000"/>
<rect x="321" y="416" width="1" height="4" fill="#fff"/>
<rect x="320" y="422" width="4" height="6" fill="#fff"/>
<rect x="324.2" y="429" width="1.6" height="1" fill="#fff"/>
<rect x="327" y="416" width="1" height="4" fill="#fff"/>
<rect x="326" y="422" width="4" height="6" fill="#fff"/>
<rect x="330.2" y="429" width="1.6" height="1" fill="#fff"/>
<rect x="333" y="416" width="1" height="4" fill="#fff"/>
<rect x="332" y="422" width="4" height="6" fill="#fff"/>
<rect x="336.2" y="429" width="1.6" height="1" fill="#fff"/>
<rect x="339" y="416" width="1" height="4" fill="#fff"/>
<rect x="338" y="422" width="4" height="6" fill="#fff"/>
<rect x="342.2" y="429" width="1.6" height="1" fill="#fff"/>
<rect x="345" y="416" width="1" height="4" fill="#fff"/>
<rect x="344" y="422" width="4" height="6" fill="#fff"/>
<rect x="348.2" y="429" width="1.6" height="1" fill="#fff"/>
<rect x="351" y="416" width="1" height="4" fill="#fff"/>
<rect x="350" y="422" width="4" height="6" fill="#fff"/>
<rect x="354.2" y="429" width="1.6" height="1" fill="#fff"/>
<rect x="357" y="416" width="1" height="4" fill="#fff"/>
<rect x="356" y="422" width="4" height="6" fill="#fff"/>
<rect x="360.2" y="429" width="1.6" height="1" fill="#fff"/>
<rect x="363" y="416" width="1" height="4" fill="#fff"/>
<rect x="362" y="422" width="4" height="6" fill="#fff"/>
<rect x="366.2" y="429" width="1.6" height="1" fill="#fff"/>
<rect x="369" y="416" width="1" height="4" fill="#fff"/>
<rect x="368" y="422" width="4" height="6" fill="#fff"/>
<rect x="372.2" y="429" width="1.6" height="1" fill="#fff"/>
<rect x="375" y="416" width="1" height="4" fill="#fff"/>
<rect x="374" y="422" width="4" height="6" fill="#fff"/>
<rect x="378.2" y="429" width="1.6" height="1" fill="#fff"/>
<rect x="381" y="416" width="1" height="4" fill="#fff"/>
<rect x="380" y="422" width="4" height="6" fill="#fff"/>
<rect x="384.2" y="429" width="1.6" height="1" fill="#fff"/>
<rect x="387" y="416" width="1" height="4" fill="#fff"/>
<rect x="386" y="422" width="4" height="6" fill="#fff"/>
<rect x="390.2" y="429" width="1.6" height="1" fill="#fff"/>
<rect x="393" y="416" width="1" height="4" fill="#fff"/>
<rect x="392" y="422" width="4" height="6" fill="#fff"/>
<rect x="396.2" y="429" width="1.6" height="1" fill="#fff"/>
<rect x="399" y="416" width="1" height="4" fill="#fff"/>
<rect x="398" y="422" width="4" height="6" fill="#fff"/>
<rect x="402.2" y="429" width="1.6" height="1" fill="#fff"/>
<rect x="405" y="416" width="1" height="4" fill="#fff"/>
<rect x="404" y="422" width="4" height="6" fill="#fff"/>
<rect x="408.2" y="429" width="1.6" height="1" fill="#fff"/>
<rect x="411" y="416" width="1" height="4" fill="#fff"/>
<rect x="410" y="422" width="4" height="6" fill="#fff"/>
<rect x="414.2" y="429" width="1.6" height="1" fill="#fff"/>
<rect x="417" y="416" width="1" height="4" fill="#fff"/>
<rect x="416" y="422" width="4" height="6" fill="#fff"/>
<rect x="420.2" y="429" width="1.6" height="1" fill="#fff"/>
<rect x="422" y="416" width="1" height="4" fill="#fff"/>
<rect x="421" y="422" width="4" height="6" fill="#fff"/>
<rect x="425.2" y="429" width="1.6" height="1" fill="#fff"/>
<rect x="428" y="416" width="1" height="4" fill="#fff"/>
<rect x="427" y="422" width="4" height="6" fill="#fff"/>
<rect x="431.2" y="429" width="1.6" height="1" fill="#fff"/>
<rect x="434" y="416" width="1" height="4" fill="#fff"/>
<rect x="433" y="422" width="4" height="6" fill="#fff"/>
<rect x="437.2" y="429" width="1.6" height="1" fill="#fff"/>
<rect x="440" y="416" width="1" height="4" fill="#fff"/>
<rect x="439" y="422" width="4" height="6" fill="#fff"/>
<rect x="443.2" y="429" width="1.6" height="1" fill="#fff"/>
<rect x="446" y="416" width="1" height="4" fill="#fff"/>
<rect x="445" y="422" width="4" height="6" fill="#fff"/>
<rect x="449.2" y="429" width="1.6" height="1" fill="#fff"/>
<rect x="452" y="416" width="1" height="4" fill="#fff"/>
<rect x="451" y="422" width="4" height="6" fill="#fff"/>
<rect x="455.2" y="429" width="1.6" height="1" fill="#fff"/>
<rect x="458" y="416" width="1" height="4" fill="#fff"/>
<rect x="457" y="422" width="4" height="6" fill="#fff"/>
<rect x="461.2" y="429" width="1.6" height="1" fill="#fff"/>
<rect x="464" y="416" width="1" height="4" fill="#fff"/>
<rect x="463" y="422" width="4" height="6" fill="#fff"/>
<rect x="467.2" y="429" width="1.6" height="1" fill="#fff"/>
<rect x="470" y="416" width="1" height="4" fill="#fff"/>
<rect x="469" y="422" width="4" height="6" fill="#fff"/>
<rect x="473.2" y="429" width="1.6" height="1" fill="#fff"/>
<rect x="476" y="416" width="1" height="4" fill="#fff"/>
<rect x="475" y="422" width="4" height="6" fill="#fff"/>
<rect x="479.2" y="429" width="1.6" height="1" fill="#fff"/>
<rect x="482" y="416" width="1" height="4" fill="#fff"/>
<rect x="481" y="422" width="4" height="6" fill="#fff"/>
<rect x="485.2" y="429" width="1.6" height="1" fill="#fff"/>
<rect x="488" y="416" width="1" height="4" fill="#fff"/>
<rect x="487" y="422" width="4" height="6" fill="#fff"/>
<rect x="491.2" y="429" width="1.6" height="1" fill="#fff"/>
<rect x="351" y="416" width="1" height="6" fill="#fff"/>
<rect x="357" y="416" width="1" height="6" fill="#fff"/>
<rect x="458" y="416" width="1" height="6" fill="#fff"/>
<rect x="464" y="416" width="1" height="6" fill="#fff"/>
<rect x="292" y="433" width="226" height="19" fill="#000"/>
<rect x="293" y="434" width="224" height="17" fill="#fff"/>
<rect x="299" y="433" width="4" height="17" fill="#000"/>
<rect x="298" y="449" width="5" height="1.6" fill="#000"/>
<rect x="291" y="440" width="8" height="8" fill="#000"/>
<rect x="292" y="441" width="7" height="6" fill="#fff"/>
<rect x="303" y="434.5" width="7" height="1" fill="#000"/>
<rect x="309" y="434.5" width="1" height="6.5" fill="#000"/>
<rect x="303" y="438" width="3" height="3" fill="#000"/>
<rect x="306" y="440" width="4" height="1" fill="#000"/>
<rect x="309" y="439" width="4" height="1" fill="#000"/>
<rect x="312" y="439" width="1" height="10" fill="#000"/>
<rect x="303" y="448" width="10" height="1" fill="#000"/>
<rect x="507" y="433" width="3" height="17" fill="#000"/>
<rect x="507" y="449" width="4" height="1.6" fill="#000"/>
<rect x="510" y="440" width="8" height="8" fill="#000"/>
<rect x="510" y="441" width="7" height="6" fill="#fff"/>
<rect x="500" y="434.5" width="7" height="1" fill="#000"/>
<rect x="500" y="434.5" width="1" height="6.5" fill="#000"/>
<rect x="504" y="438" width="3" height="3" fill="#000"/>
<rect x="500" y="440" width="4" height="1" fill="#000"/>
<rect x="497" y="439" width="4" height="1" fill="#000"/>
<rect x="497" y="439" width="1" height="10" fill="#000"/>
<rect x="497" y="448" width="10" height="1" fill="#000"/>
<rect x="317" y="435" width="175" height="14" fill="#000"/>
<rect x="318" y="449" width="174" height="0.6" fill="#000"/>
<rect x="321" y="436" width="1" height="4" fill="#fff"/>
<rect x="320" y="442" width="4" height="6" fill="#fff"/>
<rect x="324.2" y="449" width="1.6" height="1" fill="#fff"/>
<rect x="327" y="436" width="1" height="4" fill="#fff"/>
<rect x="326" y="442" width="4" height="6" fill="#fff"/>
<rect x="330.2" y="449" width="1.6" height="1" fill="#fff"/>
<rect x="333" y="436" width="1" height="4" fill="#fff"/>
<rect x="332" y="442" width="4" height="6" fill="#fff"/>
<rect x="336.2" y="449" width="1.6" height="1" fill="#fff"/>
<rect x="339" y="436" width="1" height="4" fill="#fff"/>
<rect x="338" y="442" width="4" height="6" fill="#fff"/>
<rect x="342.2" y="449" width="1.6" height="1" fill="#fff"/>
<rect x="345" y="436" width="1" height="4" fill="#fff"/>
<rect x="344" y="442" width="4" height="6" fill="#fff"/>
<rect x="348.2" y="449" width="1.6" height="1" fill="#fff"/>
<rect x="351" y="436" width="1" height="4" fill="#fff"/>
<rect x="350" y="442" width="4" height="6" fill="#fff"/>
<rect x="354.2" y="449" width="1.6" height="1" fill="#fff"/>
<rect x="357" y="436" width="1" height="4" fill="#fff"/>
<rect x="356" y="442" width="4" height="6" fill="#fff"/>
<rect x="360.2" y="449" width="1.6" height="1" fill="#fff"/>
<rect x="363" y="436" width="1" height="4" fill="#fff"/>
<rect x="362" y="442" width="4" height="6" fill="#fff"/>
<rect x="366.2" y="449" width="1.6" height="1" fill="#fff"/>
<rect x="369" y="436" width="1" height="4" fill="#fff"/>
<rect x="368" y="442" width="4" height="6" fill="#fff"/>
<rect x="372.2" y="449" width="1.6" height="1" fill="#fff"/>
<rect x="375" y="436" width="1" height="4" fill="#fff"/>
<rect x="374" y="442" width="4" height="6" fill="#fff"/>
<rect x="378.2" y="449" width="1.6" height="1" fill="#fff"/>
<rect x="381" y="436" width="1" height="4" fill="#fff"/>
<rect x="380" y="442" width="4" height="6" fill="#fff"/>
<rect x="384.2" y="449" width="1.6" height="1" fill="#fff"/>
<rect x="387" y="436" width="1" height="4" fill="#fff"/>
<rect x="386" y="442" width="4" height="6" fill="#fff"/>
<rect x="390.2" y="449" width="1.6" height="1" fill="#fff"/>
<rect x="393" y="436" width="1" height="4" fill="#fff"/>
<rect x="392" y="442" width="4" height="6" fill="#fff"/>
<rect x="396.2" y="449" width="1.6" height="1" fill="#fff"/>
<rect x="399" y="436" width="1" height="4" fill="#fff"/>
<rect x="398" y="442" width="4" height="6" fill="#fff"/>
<rect x="402.2" y="449" width="1.6" height="1" fill="#fff"/>
<rect x="405" y="436" width="1" height="4" fill="#fff"/>
<rect x="404" y="442" width="4" height="6" fill="#fff"/>
<rect x="408.2" y="449" width="1.6" height="1" fill="#fff"/>
<rect x="411" y="436" width="1" height="4" fill="#fff"/>
<rect x="410" y="442" width="4" height="6" fill="#fff"/>
<rect x="414.2" y="449" width="1.6" height="1" fill="#fff"/>
<rect x="417" y="436" width="1" height="4" fill="#fff"/>
<rect x="416" y="442" width="4" height="6" fill="#fff"/>
<rect x="420.2" y="449" width="1.6" height="1" fill="#fff"/>
<rect x="422" y="436" width="1" height="4" fill="#fff"/>
<rect x="421" y="442" width="4" height="6" fill="#fff"/>
<rect x="425.2" y="449" width="1.6" height="1" fill="#fff"/>
<rect x="428" y="436" width="1" height="4" fill="#fff"/>
<rect x="427" y="442" width="4" height="6" fill="#fff"/>
<rect x="431.2" y="449" width="1.6" height="1" fill="#fff"/>
<rect x="434" y="436" width="1" height="4" fill="#fff"/>
<rect x="433" y="442" width="4" height="6" fill="#fff"/>
<rect x="437.2" y="449" width="1.6" height="1" fill="#fff"/>
<rect x="440" y="436" width="1" height="4" fill="#fff"/>
<rect x="439" y="442" width="4" height="6" fill="#fff"/>
<rect x="443.2" y="449" width="1.6" height="1" fill="#fff"/>
<rect x="446" y="436" width="1" height="4" fill="#fff"/>
<rect x="445" y="442" width="4" height="6" fill="#fff"/>
<rect x="449.2" y="449" width="1.6" height="1" fill="#fff"/>
<rect x="452" y="436" width="1" height="4" fill="#fff"/>
<rect x="451" y="442" width="4" height="6" fill="#fff"/>
<rect x="455.2" y="449" width="1.6" height="1" fill="#fff"/>
<rect x="458" y="436" width="1" height="4" fill="#fff"/>
<rect x="457" y="442" width="4" height="6" fill="#fff"/>
<rect x="461.2" y="449" width="1.6" height="1" fill="#fff"/>
<rect x="464" y="436" width="1" height="4" fill="#fff"/>
<rect x="463" y="442" width="4" height="6" fill="#fff"/>
<rect x="467.2" y="449" width="1.6" height="1" fill="#fff"/>
<rect x="470" y="436" width="1" height="4" fill="#fff"/>
<rect x="469" y="442" width="4" height="6" fill="#fff"/>
<rect x="473.2" y="449" width="1.6" height="1" fill="#fff"/>
<rect x="476" y="436" width="1" height="4" fill="#fff"/>
<rect x="475" y="442" width="4" height="6" fill="#fff"/>
<rect x="479.2" y="449" width="1.6" height="1" fill="#fff"/>
<rect x="482" y="436" width="1" height="4" fill="#fff"/>
<rect x="481" y="442" width="4" height="6" fill="#fff"/>
<rect x="485.2" y="449" width="1.6" height="1" fill="#fff"/>
<rect x="488" y="436" width="1" height="4" fill="#fff"/>
<rect x="487" y="442" width="4" height="6" fill="#fff"/>
<rect x="491.2" y="449" width="1.6" height="1" fill="#fff"/>
<rect x="351" y="436" width="1" height="6" fill="#fff"/>
<rect x="357" y="436" width="1" height="6" fill="#fff"/>
<rect x="458" y="436" width="1" height="6" fill="#fff"/>
<rect x="464" y="436" width="1" height="6" fill="#fff"/>
<rect x="292" y="453" width="226" height="19" fill="#000"/>
<rect x="293" y="454" width="224" height="17" fill="#fff"/>
<rect x="299" y="453" width="4" height="17" fill="#000"/>
<rect x="298" y="469" width="5" height="1.6" fill="#000"/>
<rect x="291" y="460" width="8" height="8" fill="#000"/>
<rect x="292" y="461" width="7" height="6" fill="#fff"/>
<rect x="303" y="454.5" width="7" height="1" fill="#000"/>
<rect x="309" y="454.5" width="1" height="6.5" fill="#000"/>
<rect x="303" y="458" width="3" height="3" fill="#000"/>
<rect x="306" y="460" width="4" height="1" fill="#000"/>
<rect x="309" y="459" width="4" height="1" fill="#000"/>
<rect x="312" y="459" width="1" height="10" fill="#000"/>
<rect x="303" y="468" width="10" height="1" fill="#000"/>
<rect x="507" y="453" width="3" height="17" fill="#000"/>
<rect x="507" y="469" width="4" height="1.6" fill="#000"/>
<rect x="510" y="460" width="8" height="8" fill="#000"/>
<rect x="510" y="461" width="7" height="6" fill="#fff"/>
<rect x="500" y="454.5" width="7" height="1" fill="#000"/>
<rect x="500" y="454.5" width="1" height="6.5" fill="#000"/>
<rect x="504" y="458" width="3" height="3" fill="#000"/>
<rect x="500" y="460" width="4" height="1" fill="#000"/>
<rect x="497" y="459" width="4" height="1" fill="#000"/>
<rect x="497" y="459" width="1" height="10" fill="#000"/>
<rect x="497" y="468" width="10" height="1" fill="#000"/>
<rect x="317" y="455" width="175" height="14" fill="#000"/>
<rect x="318" y="469" width="174" height="0.6" fill="#000"/>
<rect x="321" y="456" width="1" height="4" fill="#fff"/>
<rect x="320" y="462" width="4" height="6" fill="#fff"/>
<rect x="324.2" y="469" width="1.6" height="1" fill="#fff"/>
<rect x="327" y="456" width="1" height="4" fill="#fff"/>
<rect x="326" y="462" width="4" height="6" fill="#fff"/>
<rect x="330.2" y="469" width="1.6" height="1" fill="#fff"/>
<rect x="333" y="456" width="1" height="4" fill="#fff"/>
<rect x="332" y="462" width="4" height="6" fill="#fff"/>
<rect x="336.2" y="469" width="1.6" height="1" fill="#fff"/>
<rect x="339" y="456" width="1" height="4" fill="#fff"/>
<rect x="338" y="462" width="4" height="6" fill="#fff"/>
<rect x="342.2" y="469" width="1.6" height="1" fill="#fff"/>
<rect x="345" y="456" width="1" height="4" fill="#fff"/>
<rect x="344" y="462" width="4" height="6" fill="#fff"/>
<rect x="348.2" y="469" width="1.6" height="1" fill="#fff"/>
<rect x="351" y="456" width="1" height="4" fill="#fff"/>
<rect x="350" y="462" width="4" height="6" fill="#fff"/>
<rect x="354.2" y="469" width="1.6" height="1" fill="#fff"/>
<rect x="357" y="456" width="1" height="4" fill="#fff"/>
<rect x="356" y="462" width="4" height="6" fill="#fff"/>
<rect x="360.2" y="469" width="1.6" height="1" fill="#fff"/>
<rect x="363" y="456" width="1" height="4" fill="#fff"/>
<rect x="362" y="462" width="4" height="6" fill="#fff"/>
<rect x="366.2" y="469" width="1.6" height="1" fill="#fff"/>
<rect x="369" y="456" width="1" height="4" fill="#fff"/>
<rect x="368" y="462" width="4" height="6" fill="#fff"/>
<rect x="372.2" y="469" width="1.6" height="1" fill="#fff"/>
<rect x="375" y="456" width="1" height="4" fill="#fff"/>
<rect x="374" y="462" width="4" height="6" fill="#fff"/>
<rect x="378.2" y="469" width="1.6" height="1" fill="#fff"/>
<rect x="381" y="456" width="1" height="4" fill="#fff"/>
<rect x="380" y="462" width="4" height="6" fill="#fff"/>
<rect x="384.2" y="469" width="1.6" height="1" fill="#fff"/>
<rect x="387" y="456" width="1" height="4" fill="#fff"/>
<rect x="386" y="462" width="4" height="6" fill="#fff"/>
<rect x="390.2" y="469" width="1.6" height="1" fill="#fff"/>
<rect x="393" y="456" width="1" height="4" fill="#fff"/>
<rect x="392" y="462" width="4" height="6" fill="#fff"/>
<rect x="396.2" y="469" width="1.6" height="1" fill="#fff"/>
<rect x="399" y="456" width="1" height="4" fill="#fff"/>
<rect x="398" y="462" width="4" height="6" fill="#fff"/>
<rect x="402.2" y="469" width="1.6" height="1" fill="#fff"/>
<rect x="405" y="456" width="1" height="4" fill="#fff"/>
<rect x="404" y="462" width="4" height="6" fill="#fff"/>
<rect x="408.2" y="469" width="1.6" height="1" fill="#fff"/>
<rect x="411" y="456" width="1" height="4" fill="#fff"/>
<rect x="410" y="462" width="4" height="6" fill="#fff"/>
<rect x="414.2" y="469" width="1.6" height="1" fill="#fff"/>
<rect x="417" y="456" width="1" height="4" fill="#fff"/>
<rect x="416" y="462" width="4" height="6" fill="#fff"/>
<rect x="420.2" y="469" width="1.6" height="1" fill="#fff"/>
<rect x="422" y="456" width="1" height="4" fill="#fff"/>
<rect x="421" y="462" width="4" height="6" fill="#fff"/>
<rect x="425.2" y="469" width="1.6" height="1" fill="#fff"/>
<rect x="428" y="456" width="1" height="4" fill="#fff"/>
<rect x="427" y="462" width="4" height="6" fill="#fff"/>
<rect x="431.2" y="469" width="1.6" height="1" fill="#fff"/>
<rect x="434" y="456" width="1" height="4" fill="#fff"/>
<rect x="433" y="462" width="4" height="6" fill="#fff"/>
<rect x="437.2" y="469" width="1.6" height="1" fill="#fff"/>
<rect x="440" y="456" width="1" height="4" fill="#fff"/>
<rect x="439" y="462" width="4" height="6" fill="#fff"/>
<rect x="443.2" y="469" width="1.6" height="1" fill="#fff"/>
<rect x="446" y="456" width="1" height="4" fill="#fff"/>
<rect x="445" y="462" width="4" height="6" fill="#fff"/>
<rect x="449.2" y="469" width="1.6" height="1" fill="#fff"/>
<rect x="452" y="456" width="1" height="4" fill="#fff"/>
<rect x="451" y="462" width="4" height="6" fill="#fff"/>
<rect x="455.2" y="469" width="1.6" height="1" fill="#fff"/>
<rect x="458" y="456" width="1" height="4" fill="#fff"/>
<rect x="457" y="462" width="4" height="6" fill="#fff"/>
<rect x="461.2" y="469" width="1.6" height="1" fill="#fff"/>
<rect x="464" y="456" width="1" height="4" fill="#fff"/>
<rect x="463" y="462" width="4" height="6" fill="#fff"/>
<rect x="467.2" y="469" width="1.6" height="1" fill="#fff"/>
<rect x="470" y="456" width="1" height="4" fill="#fff"/>
<rect x="469" y="462" width="4" height="6" fill="#fff"/>
<rect x="473.2" y="469" width="1.6" height="1" fill="#fff"/>
<rect x="476" y="456" width="1" height="4" fill="#fff"/>
<rect x="475" y="462" width="4" height="6" fill="#fff"/>
<rect x="479.2" y="469" width="1.6" height="1" fill="#fff"/>
<rect x="482" y="456" width="1" height="4" fill="#fff"/>
<rect x="481" y="462" width="4" height="6" fill="#fff"/>
<rect x="485.2" y="469" width="1.6" height="1" fill="#fff"/>
<rect x="488" y="456" width="1" height="4" fill="#fff"/>
<rect x="487" y="462" width="4" height="6" fill="#fff"/>
<rect x="491.2" y="469" width="1.6" height="1" fill="#fff"/>
<rect x="351" y="456" width="1" height="6" fill="#fff"/>
<rect x="357" y="456" width="1" height="6" fill="#fff"/>
<rect x="458" y="456" width="1" height="6" fill="#fff"/>
<rect x="464" y="456" width="1" height="6" fill="#fff"/>
<rect x="292" y="473" width="226" height="19" fill="#000"/>
<rect x="293" y="474" width="224" height="17" fill="#fff"/>
<rect x="299" y="473" width="4" height="17" fill="#000"/>
<rect x="298" y="489" width="5" height="1.6" fill="#000"/>
<rect x="291" y="480" width="8" height="8" fill="#000"/>
<rect x="292" y="481" width="7" height="6" fill="#fff"/>
<rect x="303" y="474.5" width="7" height="1" fill="#000"/>
<rect x="309" y="474.5" width="1" height="6.5" fill="#000"/>
<rect x="303" y="478" width="3" height="3" fill="#000"/>
<rect x="306" y="480" width="4" height="1" fill="#000"/>
<rect x="309" y="479" width="4" height="1" fill="#000"/>
<rect x="312" y="479" width="1" height="10" fill="#000"/>
<rect x="303" y="488" width="10" height="1" fill="#000"/>
<rect x="507" y="473" width="3" height="17" fill="#000"/>
<rect x="507" y="489" width="4" height="1.6" fill="#000"/>
<rect x="510" y="480" width="8" height="8" fill="#000"/>
<rect x="510" y="481" width="7" height="6" fill="#fff"/>
<rect x="500" y="474.5" width="7" height="1" fill="#000"/>
<rect x="500" y="474.5" width="1" height="6.5" fill="#000"/>
<rect x="504" y="478" width="3" height="3" fill="#000"/>
<rect x="500" y="480" width="4" height="1" fill="#000"/>
<rect x="497" y="479" width="4" height="1" fill="#000"/>
<rect x="497" y="479" width="1" height="10" fill="#000"/>
<rect x="497" y="488" width="10" height="1" fill="#000"/>
<rect x="317" y="475" width="175" height="14" fill="#000"/>
<rect x="318" y="489" width="174" height="0.6" fill="#000"/>
<rect x="321" y="476" width="1" height="4" fill="#fff"/>
<rect x="320" y="482" width="4" height="6" fill="#fff"/>
<rect x="324.2" y="489" width="1.6" height="1" fill="#fff"/>
<rect x="327" y="476" width="1" height="4" fill="#fff"/>
<rect x="326" y="482" width="4" height="6" fill="#fff"/>
<rect x="330.2" y="489" width="1.6" height="1" fill="#fff"/>
<rect x="333" y="476" width="1" height="4" fill="#fff"/>
<rect x="332" y="482" width="4" height="6" fill="#fff"/>
<rect x="336.2" y="489" width="1.6" height="1" fill="#fff"/>
<rect x="339" y="476" width="1" height="4" fill="#fff"/>
<rect x="338" y="482" width="4" height="6" fill="#fff"/>
<rect x="342.2" y="489" width="1.6" height="1" fill="#fff"/>
<rect x="345" y="476" width="1" height="4" fill="#fff"/>
<rect x="344" y="482" width="4" height="6" fill="#fff"/>
<rect x="348.2" y="489" width="1.6" height="1" fill="#fff"/>
<rect x="351" y="476" width="1" height="4" fill="#fff"/>
<rect x="350" y="482" width="4" height="6" fill="#fff"/>
<rect x="354.2" y="489" width="1.6" height="1" fill="#fff"/>
<rect x="357" y="476" width="1" height="4" fill="#fff"/>
<rect x="356" y="482" width="4" height="6" fill="#fff"/>
<rect x="360.2" y="489" width="1.6" height="1" fill="#fff"/>
<rect x="363" y="476" width="1" height="4" fill="#fff"/>
<rect x="362" y="482" width="4" height="6" fill="#fff"/>
<rect x="366.2" y="489" width="1.6" height="1" fill="#fff"/>
<rect x="369" y="476" width="1" height="4" fill="#fff"/>
<rect x="368" y="482" width="4" height="6" fill="#fff"/>
<rect x="372.2" y="489" width="1.6" height="1" fill="#fff"/>
<rect x="375" y="476" width="1" height="4" fill="#fff"/>
<rect x="374" y="482" width="4" height="6" fill="#fff"/>
<rect x="378.2" y="489" width="1.6" height="1" fill="#fff"/>
<rect x="381" y="476" width="1" height="4" fill="#fff"/>
<rect x="380" y="482" width="4" height="6" fill="#fff"/>
<rect x="384.2" y="489" width="1.6" height="1" fill="#fff"/>
<rect x="387" y="476" width="1" height="4" fill="#fff"/>
<rect x="386" y="482" width="4" height="6" fill="#fff"/>
<rect x="390.2" y="489" width="1.6" height="1" fill="#fff"/>
<rect x="393" y="476" width="1" height="4" fill="#fff"/>
<rect x="392" y="482" width="4" height="6" fill="#fff"/>
<rect x="396.2" y="489" width="1.6" height="1" fill="#fff"/>
<rect x="399" y="476" width="1" height="4" fill="#fff"/>
<rect x="398" y="482" width="4" height="6" fill="#fff"/>
<rect x="402.2" y="489" width="1.6" height="1" fill="#fff"/>
<rect x="405" y="476" width="1" height="4" fill="#fff"/>
<rect x="404" y="482" width="4" height="6" fill="#fff"/>
<rect x="408.2" y="489" width="1.6" height="1" fill="#fff"/>
<rect x="411" y="476" width="1" height="4" fill="#fff"/>
<rect x="410" y="482" width="4" height="6" fill="#fff"/>
<rect x="414.2" y="489" width="1.6" height="1" fill="#fff"/>
<rect x="417" y="476" width="1" height="4" fill="#fff"/>
<rect x="416" y="482" width="4" height="6" fill="#fff"/>
<rect x="420.2" y="489" width="1.6" height="1" fill="#fff"/>
<rect x="422" y="476" width="1" height="4" fill="#fff"/>
<rect x="421" y="482" width="4" height="6" fill="#fff"/>
<rect x="425.2" y="489" width="1.6" height="1" fill="#fff"/>
<rect x="428" y="476" width="1" height="4" fill="#fff"/>
<rect x="427" y="482" width="4" height="6" fill="#fff"/>
<rect x="431.2" y="489" width="1.6" height="1" fill="#fff"/>
<rect x="434" y="476" width="1" height="4" fill="#fff"/>
<rect x="433" y="482" width="4" height="6" fill="#fff"/>
<rect x="437.2" y="489" width="1.6" height="1" fill="#fff"/>
<rect x="440" y="476" width="1" height="4" fill="#fff"/>
<rect x="439" y="482" width="4" height="6" fill="#fff"/>
<rect x="443.2" y="489" width="1.6" height="1" fill="#fff"/>
<rect x="446" y="476" width="1" height="4" fill="#fff"/>
<rect x="445" y="482" width="4" height="6" fill="#fff"/>
<rect x="449.2" y="489" width="1.6" height="1" fill="#fff"/>
<rect x="452" y="476" width="1" height="4" fill="#fff"/>
<rect x="451" y="482" width="4" height="6" fill="#fff"/>
<rect x="455.2" y="489" width="1.6" height="1" fill="#fff"/>
<rect x="458" y="476" width="1" height="4" fill="#fff"/>
<rect x="457" y="482" width="4" height="6" fill="#fff"/>
<rect x="461.2" y="489" width="1.6" height="1" fill="#fff"/>
<rect x="464" y="476" width="1" height="4" fill="#fff"/>
<rect x="463" y="482" width="4" height="6" fill="#fff"/>
<rect x="467.2" y="489" width="1.6" height="1" fill="#fff"/>
<rect x="470" y="476" width="1" height="4" fill="#fff"/>
<rect x="469" y="482" width="4" height="6" fill="#fff"/>
<rect x="473.2" y="489" width="1.6" height="1" fill="#fff"/>
<rect x="476" y="476" width="1" height="4" fill="#fff"/>
<rect x="475" y="482" width="4" height="6" fill="#fff"/>
<rect x="479.2" y="489" width="1.6" height="1" fill="#fff"/>
<rect x="482" y="476" width="1" height="4" fill="#fff"/>
<rect x="481" y="482" width="4" height="6" fill="#fff"/>
<rect x="485.2" y="489" width="1.6" height="1" fill="#fff"/>
<rect x="488" y="476" width="1" height="4" fill="#fff"/>
<rect x="487" y="482" width="4" height="6" fill="#fff"/>
<rect x="491.2" y="489" width="1.6" height="1" fill="#fff"/>
<rect x="351" y="476" width="1" height="6" fill="#fff"/>
<rect x="357" y="476" width="1" height="6" fill="#fff"/>
<rect x="458" y="476" width="1" height="6" fill="#fff"/>
<rect x="464" y="476" width="1" height="6" fill="#fff"/>
<rect x="292" y="493" width="226" height="19" fill="#000"/>
<rect x="293" y="494" width="224" height="17" fill="#fff"/>
<rect x="299" y="493" width="4" height="17" fill="#000"/>
<rect x="298" y="509" width="5" height="1.6" fill="#000"/>
<rect x="291" y="500" width="8" height="8" fill="#000"/>
<rect x="292" y="501" width="7" height="6" fill="#fff"/>
<rect x="303" y="494.5" width="7" height="1" fill="#000"/>
<rect x="309" y="494.5" width="1" height="6.5" fill="#000"/>
<rect x="303" y="498" width="3" height="3" fill="#000"/>
<rect x="306" y="500" width="4" height="1" fill="#000"/>
<rect x="309" y="499" width="4" height="1" fill="#000"/>
<rect x="312" y="499" width="1" height="10" fill="#000"/>
<rect x="303" y="508" width="10" height="1" fill="#000"/>
<rect x="507" y="493" width="3" height="17" fill="#000"/>
<rect x="507" y="509" width="4" height="1.6" fill="#000"/>
<rect x="510" y="500" width="8" height="8" fill="#000"/>
<rect x="510" y="501" width="7" height="6" fill="#fff"/>
<rect x="500" y="494.5" width="7" height="1" fill="#000"/>
<rect x="500" y="494.5" width="1" height="6.5" fill="#000"/>
<rect x="504" y="498" width="3" height="3" fill="#000"/>
<rect x="500" y="500" width="4" height="1" fill="#000"/>
<rect x="497" y="499" width="4" height="1" fill="#000"/>
<rect x="497" y="499" width="1" height="10" fill="#000"/>
<rect x="497" y="508" width="10" height="1" fill="#000"/>
<rect x="317" y="495" width="175" height="14" fill="#000"/>
<rect x="318" y="509" width="174" height="0.6" fill="#000"/>
<rect x="321" y="496" width="1" height="4" fill="#fff"/>
<rect x="320" y="502" width="4" height="6" fill="#fff"/>
<rect x="324.2" y="509" width="1.6" height="1" fill="#fff"/>
<rect x="327" y="496" width="1" height="4" fill="#fff"/>
<rect x="326" y="502" width="4" height="6" fill="#fff"/>
<rect x="330.2" y="509" width="1.6" height="1" fill="#fff"/>
<rect x="333" y="496" width="1" height="4" fill="#fff"/>
<rect x="332" y="502" width="4" height="6" fill="#fff"/>
<rect x="336.2" y="509" width="1.6" height="1" fill="#fff"/>
<rect x="339" y="496" width="1" height="4" fill="#fff"/>
<rect x="338" y="502" width="4" height="6" fill="#fff"/>
<rect x="342.2" y="509" width="1.6" height="1" fill="#fff"/>
<rect x="345" y="496" width="1" height="4" fill="#fff"/>
<rect x="344" y="502" width="4" height="6" fill="#fff"/>
<rect x="348.2" y="509" width="1.6" height="1" fill="#fff"/>
<rect x="351" y="496" width="1" height="4" fill="#fff"/>
<rect x="350" y="502" width="4" height="6" fill="#fff"/>
<rect x="354.2" y="509" width="1.6" height="1" fill="#fff"/>
<rect x="357" y="496" width="1" height="4" fill="#fff"/>
<rect x="356" y="502" width="4" height="6" fill="#fff"/>
<rect x="360.2" y="509" width="1.6" height="1" fill="#fff"/>
<rect x="363" y="496" width="1" height="4" fill="#fff"/>
<rect x="362" y="502" width="4" height="6" fill="#fff"/>
<rect x="366.2" y="509" width="1.6" height="1" fill="#fff"/>
<rect x="369" y="496" width="1" height="4" fill="#fff"/>
<rect x="368" y="502" width="4" height="6" fill="#fff"/>
<rect x="372.2" y="509" width="1.6" height="1" fill="#fff"/>
<rect x="375" y="496" width="1" height="4" fill="#fff"/>
<rect x="374" y="502" width="4" height="6" fill="#fff"/>
<rect x="378.2" y="509" width="1.6" height="1" fill="#fff"/>
<rect x="381" y="496" width="1" height="4" fill="#fff"/>
<rect x="380" y="502" width="4" height="6" fill="#fff"/>
<rect x="384.2" y="509" width="1.6" height="1" fill="#fff"/>
<rect x="387" y="496" width="1" height="4" fill="#fff"/>
<rect x="386" y="502" width="4" height="6" fill="#fff"/>
<rect x="390.2" y="509" width="1.6" height="1" fill="#fff"/>
<rect x="393" y="496" width="1" height="4" fill="#fff"/>
<rect x="392" y="502" width="4" height="6" fill="#fff"/>
<rect x="396.2" y="509" width="1.6" height="1" fill="#fff"/>
<rect x="399" y="496" width="1" height="4" fill="#fff"/>
<rect x="398" y="502" width="4" height="6" fill="#fff"/>
<rect x="402.2" y="509" width="1.6" height="1" fill="#fff"/>
<rect x="405" y="496" width="1" height="4" fill="#fff"/>
<rect x="404" y="502" width="4" height="6" fill="#fff"/>
<rect x="408.2" y="509" width="1.6" height="1" fill="#fff"/>
<rect x="411" y="496" width="1" height="4" fill="#fff"/>
<rect x="410" y="502" width="4" height="6" fill="#fff"/>
<rect x="414.2" y="509" width="1.6" height="1" fill="#fff"/>
<rect x="417" y="496" width="1" height="4" fill="#fff"/>
<rect x="416" y="502" width="4" height="6" fill="#fff"/>
<rect x="420.2" y="509" width="1.6" height="1" fill="#fff"/>
<rect x="422" y="496" width="1" height="4" fill="#fff"/>
<rect x="421" y="502" width="4" height="6" fill="#fff"/>
<rect x="425.2" y="509" width="1.6" height="1" fill="#fff"/>
<rect x="428" y="496" width="1" height="4" fill="#fff"/>
<rect x="427" y="502" width="4" height="6" fill="#fff"/>
<rect x="431.2" y="509" width="1.6" height="1" fill="#fff"/>
<rect x="434" y="496" width="1" height="4" fill="#fff"/>
<rect x="433" y="502" width="4" height="6" fill="#fff"/>
<rect x="437.2" y="509" width="1.6" height="1" fill="#fff"/>
<rect x="440" y="496" width="1" height="4" fill="#fff"/>
<rect x="439" y="502" width="4" height="6" fill="#fff"/>
<rect x="443.2" y="509" width="1.6" height="1" fill="#fff"/>
<rect x="446" y="496" width="1" height="4" fill="#fff"/>
<rect x="445" y="502" width="4" height="6" fill="#fff"/>
<rect x="449.2" y="509" width="1.6" height="1" fill="#fff"/>
<rect x="452" y="496" width="1" height="4" fill="#fff"/>
<rect x="451" y="502" width="4" height="6" fill="#fff"/>
<rect x="455.2" y="509" width="1.6" height="1" fill="#fff"/>
<rect x="458" y="496" width="1" height="4" fill="#fff"/>
<rect x="457" y="502" width="4" height="6" fill="#fff"/>
<rect x="461.2" y="509" width="1.6" height="1" fill="#fff"/>
<rect x="464" y="496" width="1" height="4" fill="#fff"/>
<rect x="463" y="502" width="4" height="6" fill="#fff"/>
<rect x="467.2" y="509" width="1.6" height="1" fill="#fff"/>
<rect x="470" y="496" width="1" height="4" fill="#fff"/>
<rect x="469" y="502" width="4" height="6" fill="#fff"/>
<rect x="473.2" y="509" width="1.6" height="1" fill="#fff"/>
<rect x="476" y="496" width="1" height="4" fill="#fff"/>
<rect x="475" y="502" width="4" height="6" fill="#fff"/>
<rect x="479.2" y="509" width="1.6" height="1" fill="#fff"/>
<rect x="482" y="496" width="1" height="4" fill="#fff"/>
<rect x="481" y="502" width="4" height="6" fill="#fff"/>
<rect x="485.2" y="509" width="1.6" height="1" fill="#fff"/>
<rect x="488" y="496" width="1" height="4" fill="#fff"/>
<rect x="487" y="502" width="4" height="6" fill="#fff"/>
<rect x="491.2" y="509" width="1.6" height="1" fill="#fff"/>
<rect x="351" y="496" width="1" height="6" fill="#fff"/>
<rect x="357" y="496" width="1" height="6" fill="#fff"/>
<rect x="458" y="496" width="1" height="6" fill="#fff"/>
<rect x="464" y="496" width="1" height="6" fill="#fff"/>
<rect x="292" y="513" width="226" height="19" fill="#000"/>
<rect x="293" y="514" width="224" height="17" fill="#fff"/>
<rect x="299" y="513" width="4" height="17" fill="#000"/>
<rect x="298" y="529" width="5" height="1.6" fill="#000"/>
<rect x="291" y="520" width="8" height="8" fill="#000"/>
<rect x="292" y="521" width="7" height="6" fill="#fff"/>
<rect x="303" y="514.5" width="7" height="1" fill="#000"/>
<rect x="309" y="514.5" width="1" height="6.5" fill="#000"/>
<rect x="303" y="518" width="3" height="3" fill="#000"/>
<rect x="306" y="520" width="4" height="1" fill="#000"/>
<rect x="309" y="519" width="4" height="1" fill="#000"/>
<rect x="312" y="519" width="1" height="10" fill="#000"/>
<rect x="303" y="528" width="10" height="1" fill="#000"/>
<rect x="507" y="513" width="3" height="17" fill="#000"/>
<rect x="507" y="529" width="4" height="1.6" fill="#000"/>
<rect x="510" y="520" width="8" height="8" fill="#000"/>
<rect x="510" y="521" width="7" height="6" fill="#fff"/>
<rect x="500" y="514.5" width="7" height="1" fill="#000"/>
<rect x="500" y="514.5" width="1" height="6.5" fill="#000"/>
<rect x="504" y="518" width="3" height="3" fill="#000"/>
<rect x="500" y="520" width="4" height="1" fill="#000"/>
<rect x="497" y="519" width="4" height="1" fill="#000"/>
<rect x="497" y="519" width="1" height="10" fill="#000"/>
<rect x="497" y="528" width="10" height="1" fill="#000"/>
<rect x="317" y="515" width="175" height="14" fill="#000"/>
<rect x="318" y="529" width="174" height="0.6" fill="#000"/>
<rect x="321" y="516" width="1" height="4" fill="#fff"/>
<rect x="320" y="522" width="4" height="6" fill="#fff"/>
<rect x="324.2" y="529" width="1.6" height="1" fill="#fff"/>
<rect x="327" y="516" width="1" height="4" fill="#fff"/>
<rect x="326" y="522" width="4" height="6" fill="#fff"/>
<rect x="330.2" y="529" width="1.6" height="1" fill="#fff"/>
<rect x="333" y="516" width="1" height="4" fill="#fff"/>
<rect x="332" y="522" width="4" height="6" fill="#fff"/>
<rect x="336.2" y="529" width="1.6" height="1" fill="#fff"/>
<rect x="339" y="516" width="1" height="4" fill="#fff"/>
<rect x="338" y="522" width="4" height="6" fill="#fff"/>
<rect x="342.2" y="529" width="1.6" height="1" fill="#fff"/>
<rect x="345" y="516" width="1" height="4" fill="#fff"/>
<rect x="344" y="522" width="4" height="6" fill="#fff"/>
<rect x="348.2" y="529" width="1.6" height="1" fill="#fff"/>
<rect x="351" y="516" width="1" height="4" fill="#fff"/>
<rect x="350" y="522" width="4" height="6" fill="#fff"/>
<rect x="354.2" y="529" width="1.6" height="1" fill="#fff"/>
<rect x="357" y="516" width="1" height="4" fill="#fff"/>
<rect x="356" y="522" width="4" height="6" fill="#fff"/>
<rect x="360.2" y="529" width="1.6" height="1" fill="#fff"/>
<rect x="363" y="516" width="1" height="4" fill="#fff"/>
<rect x="362" y="522" width="4" height="6" fill="#fff"/>
<rect x="366.2" y="529" width="1.6" height="1" fill="#fff"/>
<rect x="369" y="516" width="1" height="4" fill="#fff"/>
<rect x="368" y="522" width="4" height="6" fill="#fff"/>
<rect x="372.2" y="529" width="1.6" height="1" fill="#fff"/>
<rect x="375" y="516" width="1" height="4" fill="#fff"/>
<rect x="374" y="522" width="4" height="6" fill="#fff"/>
<rect x="378.2" y="529" width="1.6" height="1" fill="#fff"/>
<rect x="381" y="516" width="1" height="4" fill="#fff"/>
<rect x="380" y="522" width="4" height="6" fill="#fff"/>
<rect x="384.2" y="529" width="1.6" height="1" fill="#fff"/>
<rect x="387" y="516" width="1" height="4" fill="#fff"/>
<rect x="386" y="522" width="4" height="6" fill="#fff"/>
<rect x="390.2" y="529" width="1.6" height="1" fill="#fff"/>
<rect x="393" y="516" width="1" height="4" fill="#fff"/>
<rect x="392" y="522" width="4" height="6" fill="#fff"/>
<rect x="396.2" y="529" width="1.6" height="1" fill="#fff"/>
<rect x="399" y="516" width="1" height="4" fill="#fff"/>
<rect x="398" y="522" width="4" height="6" fill="#fff"/>
<rect x="402.2" y="529" width="1.6" height="1" fill="#fff"/>
<rect x="405" y="516" width="1" height="4" fill="#fff"/>
<rect x="404" y="522" width="4" height="6" fill="#fff"/>
<rect x="408.2" y="529" width="1.6" height="1" fill="#fff"/>
<rect x="411" y="516" width="1" height="4" fill="#fff"/>
<rect x="410" y="522" width="4" height="6" fill="#fff"/>
<rect x="414.2" y="529" width="1.6" height="1" fill="#fff"/>
<rect x="417" y="516" width="1" height="4" fill="#fff"/>
<rect x="416" y="522" width="4" height="6" fill="#fff"/>
<rect x="420.2" y="529" width="1.6" height="1" fill="#fff"/>
<rect x="422" y="516" width="1" height="4" fill="#fff"/>
<rect x="421" y="522" width="4" height="6" fill="#fff"/>
<rect x="425.2" y="529" width="1.6" height="1" fill="#fff"/>
<rect x="428" y="516" width="1" height="4" fill="#fff"/>
<rect x="427" y="522" width="4" height="6" fill="#fff"/>
<rect x="431.2" y="529" width="1.6" height="1" fill="#fff"/>
<rect x="434" y="516" width="1" height="4" fill="#fff"/>
<rect x="433" y="522" width="4" height="6" fill="#fff"/>
<rect x="437.2" y="529" width="1.6" height="1" fill="#fff"/>
<rect x="440" y="516" width="1" height="4" fill="#fff"/>
<rect x="439" y="522" width="4" height="6" fill="#fff"/>
<rect x="443.2" y="529" width="1.6" height="1" fill="#fff"/>
<rect x="446" y="516" width="1" height="4" fill="#fff"/>
<rect x="445" y="522" width="4" height="6" fill="#fff"/>
<rect x="449.2" y="529" width="1.6" height="1" fill="#fff"/>
<rect x="452" y="516" width="1" height="4" fill="#fff"/>
<rect x="451" y="522" width="4" height="6" fill="#fff"/>
<rect x="455.2" y="529" width="1.6" height="1" fill="#fff"/>
<rect x="458" y="516" width="1" height="4" fill="#fff"/>
<rect x="457" y="522" width="4" height="6" fill="#fff"/>
<rect x="461.2" y="529" width="1.6" height="1" fill="#fff"/>
<rect x="464" y="516" width="1" height="4" fill="#fff"/>
<rect x="463" y="522" width="4" height="6" fill="#fff"/>
<rect x="467.2" y="529" width="1.6" height="1" fill="#fff"/>
<rect x="470" y="516" width="1" height="4" fill="#fff"/>
<rect x="469" y="522" width="4" height="6" fill="#fff"/>
<rect x="473.2" y="529" width="1.6" height="1" fill="#fff"/>
<rect x="476" y="516" width="1" height="4" fill="#fff"/>
<rect x="475" y="522" width="4" height="6" fill="#fff"/>
<rect x="479.2" y="529" width="1.6" height="1" fill="#fff"/>
<rect x="482" y="516" width="1" height="4" fill="#fff"/>
<rect x="481" y="522" width="4" height="6" fill="#fff"/>
<rect x="485.2" y="529" width="1.6" height="1" fill="#fff"/>
<rect x="488" y="516" width="1" height="4" fill="#fff"/>
<rect x="487" y="522" width="4" height="6" fill="#fff"/>
<rect x="491.2" y="529" width="1.6" height="1" fill="#fff"/>
<rect x="351" y="516" width="1" height="6" fill="#fff"/>
<rect x="357" y="516" width="1" height="6" fill="#fff"/>
<rect x="458" y="516" width="1" height="6" fill="#fff"/>
<rect x="464" y="516" width="1" height="6" fill="#fff"/>
<rect x="377" y="403" width="56" height="17" fill="#000"/>
<rect x="376" y="404" width="58" height="15" fill="#000"/>
<rect x="375" y="405" width="60" height="13" fill="#000"/>
<rect x="378" y="405" width="54" height="13" fill="#fff"/>
<rect x="377" y="406" width="56" height="11" fill="#fff"/>
<rect x="377" y="484" width="56" height="17" fill="#000"/>
<rect x="376" y="485" width="58" height="15" fill="#000"/>
<rect x="375" y="486" width="60" height="13" fill="#000"/>
<rect x="378" y="486" width="54" height="13" fill="#fff"/>
<rect x="377" y="487" width="56" height="11" fill="#fff"/>
<rect x="531" y="444" width="41" height="88" fill="#000"/>
<rect x="545" y="530" width="12" height="2" fill="#fff"/>
<rect x="531" y="477" width="41" height="18" fill="#000"/>
<rect x="530" y="478" width="43" height="16" fill="#000"/>
<rect x="529" y="479" width="45" height="14" fill="#000"/>
<rect x="532" y="479" width="39" height="14" fill="#fff"/>
<rect x="531" y="480" width="41" height="12" fill="#fff"/>
<rect x="580" y="405" width="43" height="127" fill="#000"/>
<rect x="596" y="530" width="12" height="2" fill="#fff"/>
<line x1="582.5" y1="408.5" x2="582.5" y2="530" stroke="#fff" stroke-width="1" stroke-dasharray="4.2 2.9"/>
<rect x="588" y="461" width="28" height="14" fill="#fff"/>
<rect x="633" y="411" width="25" height="113" fill="#000"/>
<rect x="634" y="412" width="23" height="111" fill="#fff"/>
<rect x="649" y="411" width="1" height="113" fill="#000"/>
<rect x="637" y="411" width="1" height="4" fill="#000"/>
<rect x="642" y="411" width="1" height="4" fill="#000"/>
<rect x="637" y="414" width="6" height="1" fill="#000"/>
<rect x="637" y="520" width="1" height="4" fill="#000"/>
<rect x="642" y="520" width="1" height="4" fill="#000"/>
<rect x="637" y="520" width="6" height="1" fill="#000"/>
<rect x="637" y="418" width="7" height="7" fill="#000"/>
<rect x="638" y="419" width="5" height="5" fill="#fff"/>
<rect x="637" y="427" width="7" height="7" fill="#000"/>
<rect x="638" y="428" width="5" height="5" fill="#fff"/>
<rect x="637" y="436" width="7" height="7" fill="#000"/>
<rect x="638" y="437" width="5" height="5" fill="#fff"/>
<rect x="637" y="446" width="7" height="7" fill="#000"/>
<rect x="638" y="447" width="5" height="5" fill="#fff"/>
<rect x="637" y="455" width="7" height="7" fill="#000"/>
<rect x="638" y="456" width="5" height="5" fill="#fff"/>
<rect x="637" y="464" width="7" height="7" fill="#000"/>
<rect x="638" y="465" width="5" height="5" fill="#fff"/>
<rect x="637" y="473" width="7" height="7" fill="#000"/>
<rect x="638" y="474" width="5" height="5" fill="#fff"/>
<rect x="637" y="482" width="7" height="7" fill="#000"/>
<rect x="638" y="483" width="5" height="5" fill="#fff"/>
<rect x="637" y="492" width="7" height="7" fill="#000"/>
<rect x="638" y="493" width="5" height="5" fill="#fff"/>
<rect x="637" y="501" width="7" height="7" fill="#000"/>
<rect x="638" y="502" width="5" height="5" fill="#fff"/>
<rect x="637" y="511" width="7" height="7" fill="#000"/>
<rect x="638" y="512" width="5" height="5" fill="#fff"/>
<rect x="645" y="414" width="2" height="7" fill="#000"/>
<rect x="651" y="415" width="3" height="7" fill="#000"/>
<rect x="652" y="416" width="1" height="5" fill="#fff"/>
<rect x="650" y="417" width="1" height="2" fill="#000"/>
<rect x="645" y="423" width="2" height="7" fill="#000"/>
<rect x="651" y="424" width="3" height="7" fill="#000"/>
<rect x="652" y="425" width="1" height="5" fill="#fff"/>
<rect x="650" y="426" width="1" height="2" fill="#000"/>
<rect x="645" y="432" width="2" height="7" fill="#000"/>
<rect x="651" y="433" width="3" height="7" fill="#000"/>
<rect x="652" y="434" width="1" height="5" fill="#fff"/>
<rect x="650" y="435" width="1" height="2" fill="#000"/>
<rect x="645" y="442" width="2" height="7" fill="#000"/>
<rect x="651" y="443" width="3" height="7" fill="#000"/>
<rect x="652" y="444" width="1" height="5" fill="#fff"/>
<rect x="650" y="445" width="1" height="2" fill="#000"/>
<rect x="645" y="451" width="2" height="7" fill="#000"/>
<rect x="651" y="452" width="3" height="7" fill="#000"/>
<rect x="652" y="453" width="1" height="5" fill="#fff"/>
<rect x="650" y="454" width="1" height="2" fill="#000"/>
<rect x="645" y="460" width="2" height="7" fill="#000"/>
<rect x="651" y="461" width="3" height="7" fill="#000"/>
<rect x="652" y="462" width="1" height="5" fill="#fff"/>
<rect x="650" y="463" width="1" height="2" fill="#000"/>
<rect x="645" y="469" width="2" height="7" fill="#000"/>
<rect x="651" y="470" width="3" height="7" fill="#000"/>
<rect x="652" y="471" width="1" height="5" fill="#fff"/>
<rect x="650" y="472" width="1" height="2" fill="#000"/>
<rect x="645" y="478" width="2" height="7" fill="#000"/>
<rect x="651" y="479" width="3" height="7" fill="#000"/>
<rect x="652" y="480" width="1" height="5" fill="#fff"/>
<rect x="650" y="481" width="1" height="2" fill="#000"/>
<rect x="645" y="487" width="2" height="7" fill="#000"/>
<rect x="651" y="488" width="3" height="7" fill="#000"/>
<rect x="652" y="489" width="1" height="5" fill="#fff"/>
<rect x="650" y="490" width="1" height="2" fill="#000"/>
<rect x="645" y="496" width="2" height="7" fill="#000"/>
<rect x="651" y="497" width="3" height="7" fill="#000"/>
<rect x="652" y="498" width="1" height="5" fill="#fff"/>
<rect x="650" y="499" width="1" height="2" fill="#000"/>
<rect x="645" y="505" width="2" height="7" fill="#000"/>
<rect x="651" y="506" width="3" height="7" fill="#000"/>
<rect x="652" y="507" width="1" height="5" fill="#fff"/>
<rect x="650" y="508" width="1" height="2" fill="#000"/>
<rect x="645" y="514" width="2" height="7" fill="#000"/>
<rect x="651" y="515" width="3" height="7" fill="#000"/>
<rect x="652" y="516" width="1" height="5" fill="#fff"/>
<rect x="650" y="517" width="1" height="2" fill="#000"/>
<rect x="710" y="424" width="30" height="37" fill="#000"/>
<rect x="707" y="430" width="3" height="24" fill="#000"/>
<rect x="734" y="419" width="6" height="45" fill="#000"/>
<rect x="737" y="417" width="3" height="50" fill="#000"/>
<rect x="703" y="432" width="5" height="9" fill="#000"/>
<rect x="704" y="433" width="3" height="7" fill="#fff"/>
<rect x="703" y="443" width="5" height="9" fill="#000"/>
<rect x="704" y="444" width="3" height="7" fill="#fff"/>
<rect x="708" y="440" width="2" height="3" fill="#fff"/>
<rect x="150" y="37" width="7" height="13" fill="#000"/>
<rect x="151" y="41" width="5" height="1" fill="#fff"/>
<rect x="151" y="46" width="5" height="1" fill="#fff"/>
<rect x="161" y="37" width="7" height="13" fill="#000"/>
<rect x="162" y="38" width="5" height="11" fill="#fff"/>
<rect x="163" y="41" width="5" height="1" fill="#000"/>
<rect x="163" y="46" width="5" height="1" fill="#000"/>
<rect x="166" y="37" width="2" height="13" fill="#000"/>
<rect x="102" y="35" width="32" height="18" fill="#000"/>
<rect x="101" y="36" width="34" height="16" fill="#000"/>
<rect x="100" y="37" width="36" height="14" fill="#000"/>
<rect x="102" y="37" width="32" height="14" fill="#fff"/>
<polygon points="135.5,40.8 139.6,41 140.4,42 143.8,42.1 144.6,42.9 147.8,43 148.4,43.5 150,43.5 150,45.5 148.4,45.5 147.8,46 144.6,46.1 143.8,46.9 140.4,47 139.6,48 135.5,48.2" fill="#000" stroke="none" stroke-width="1" stroke-linejoin="miter" shape-rendering="auto"/>
<polygon points="133.6,42.8 137.8,42.9 138.3,43.95 142.4,43.95 142.4,45.05 138.3,45.05 137.8,46.1 133.6,46.2" fill="#fff" stroke="none" stroke-width="1" stroke-linejoin="miter" shape-rendering="auto"/>
<rect x="175" y="15" width="31" height="19" fill="#000"/>
<rect x="174" y="16" width="33" height="17" fill="#000"/>
<rect x="173" y="17" width="35" height="15" fill="#000"/>
<rect x="176" y="18" width="30" height="14" fill="#fff"/>
<rect x="173.2" y="17" width="3" height="14" fill="#000"/>
<rect x="175" y="15" width="31" height="3" fill="#000"/>
<polygon points="176.3,29 180,31.4 176.8,33.8 174.5,31.5" fill="#fff" stroke="none" stroke-width="1" stroke-linejoin="miter" shape-rendering="auto"/>
<polyline points="174.2,30.2 168.6,38.4" fill="none" stroke="#000" stroke-width="1.6" shape-rendering="auto"/>
<polyline points="177,32.6 169.4,40.4" fill="none" stroke="#000" stroke-width="1.6" shape-rendering="auto"/>
<rect x="98" y="80" width="7" height="18.4" fill="#000"/>
<rect x="98" y="80" width="7" height="7" fill="#000"/>
<rect x="99" y="81" width="5" height="5" fill="#fff"/>
<rect x="100" y="82" width="3" height="3" fill="#000"/>
<rect x="101" y="83" width="1" height="1" fill="#fff"/>
<rect x="92" y="86" width="6" height="6.6" fill="#000"/>
<rect x="98" y="87" width="6" height="5" fill="#fff"/>
<rect x="99" y="87.6" width="4" height="4" fill="#000"/>
<rect x="103" y="86.6" width="1" height="10.8" fill="#fff"/>
<rect x="121" y="81" width="38" height="18" fill="#000"/>
<rect x="120" y="82" width="40" height="16" fill="#000"/>
<rect x="119" y="83" width="42" height="14" fill="#000"/>
<rect x="121" y="83" width="37" height="14" fill="#fff"/>
<polygon points="119.5,86.8 115.4,87 114.6,88 111.2,88.1 110.4,88.9 107.2,89 106.6,89.5 105,89.5 105,91.5 106.6,91.5 107.2,92 110.4,92.1 111.2,92.9 114.6,93 115.4,94 119.5,94.2" fill="#000" stroke="none" stroke-width="1" stroke-linejoin="miter" shape-rendering="auto"/>
<polygon points="121.4,88.8 117.2,88.9 116.7,89.95 112.6,89.95 112.6,91.05 116.7,91.05 117.2,92.1 121.4,92.2" fill="#fff" stroke="none" stroke-width="1" stroke-linejoin="miter" shape-rendering="auto"/>
<rect x="9" y="96" width="38" height="18" fill="#000"/>
<rect x="8" y="97" width="40" height="16" fill="#000"/>
<rect x="7" y="98" width="42" height="14" fill="#000"/>
<rect x="9" y="98" width="38" height="14" fill="#fff"/>
<polygon points="48.5,101.8 52.6,102 53.4,103 56.8,103.1 57.6,103.9 60.8,104 61.4,104.5 63,104.5 63,106.5 61.4,106.5 60.8,107 57.6,107.1 56.8,107.9 53.4,108 52.6,109 48.5,109.2" fill="#000" stroke="none" stroke-width="1" stroke-linejoin="miter" shape-rendering="auto"/>
<polygon points="46.6,103.8 50.8,103.9 51.3,104.95 55.4,104.95 55.4,106.05 51.3,106.05 50.8,107.1 46.6,107.2" fill="#fff" stroke="none" stroke-width="1" stroke-linejoin="miter" shape-rendering="auto"/>
<rect x="63" y="89" width="7" height="31" fill="#000"/>
<rect x="64" y="96" width="5" height="1" fill="#fff"/>
<rect x="64" y="101" width="5" height="1" fill="#fff"/>
<rect x="64" y="107" width="5" height="1" fill="#fff"/>
<rect x="64" y="113" width="5" height="1" fill="#fff"/>
<rect x="63" y="89" width="7" height="7" fill="#000"/>
<rect x="64" y="90" width="5" height="5" fill="#fff"/>
<rect x="65" y="91" width="3" height="3" fill="#000"/>
<rect x="66" y="92" width="1" height="1" fill="#fff"/>
<rect x="9" y="134" width="38" height="19" fill="#000"/>
<rect x="8" y="135" width="40" height="17" fill="#000"/>
<rect x="7" y="136" width="42" height="15" fill="#000"/>
<rect x="9" y="137" width="38" height="14" fill="#fff"/>
<polygon points="48.5,139.8 52.6,140 53.4,141 56.8,141.1 57.6,141.9 60.8,142 61.4,142.5 63,142.5 63,144.5 61.4,144.5 60.8,145 57.6,145.1 56.8,145.9 53.4,146 52.6,147 48.5,147.2" fill="#000" stroke="none" stroke-width="1" stroke-linejoin="miter" shape-rendering="auto"/>
<polygon points="46.6,141.8 50.8,141.9 51.3,142.95 55.4,142.95 55.4,144.05 51.3,144.05 50.8,145.1 46.6,145.2" fill="#fff" stroke="none" stroke-width="1" stroke-linejoin="miter" shape-rendering="auto"/>
<rect x="63" y="131" width="7" height="24.5" fill="#000"/>
<rect x="64" y="138" width="5" height="1" fill="#fff"/>
<rect x="64" y="143" width="5" height="1" fill="#fff"/>
<rect x="64" y="149" width="5" height="1" fill="#fff"/>
<rect x="63" y="131" width="7" height="7" fill="#000"/>
<rect x="64" y="132" width="5" height="5" fill="#fff"/>
<rect x="65" y="133" width="3" height="3" fill="#000"/>
<rect x="66" y="134" width="1" height="1" fill="#fff"/>
<rect x="9" y="162" width="38" height="19" fill="#000"/>
<rect x="8" y="163" width="40" height="17" fill="#000"/>
<rect x="7" y="164" width="42" height="15" fill="#000"/>
<rect x="9" y="164" width="38" height="14" fill="#fff"/>
<polygon points="48.5,167.8 52.6,168 53.4,169 56.8,169.1 57.6,169.9 60.8,170 61.4,170.5 63,170.5 63,172.5 61.4,172.5 60.8,173 57.6,173.1 56.8,173.9 53.4,174 52.6,175 48.5,175.2" fill="#000" stroke="none" stroke-width="1" stroke-linejoin="miter" shape-rendering="auto"/>
<polygon points="46.6,169.8 50.8,169.9 51.3,170.95 55.4,170.95 55.4,172.05 51.3,172.05 50.8,173.1 46.6,173.2" fill="#fff" stroke="none" stroke-width="1" stroke-linejoin="miter" shape-rendering="auto"/>
<rect x="63" y="165" width="7" height="12.5" fill="#000"/>
<rect x="65" y="171" width="4" height="1" fill="#fff"/>
<rect x="65" y="175.3" width="4" height="1" fill="#fff"/>
<rect x="9" y="188" width="38" height="19" fill="#000"/>
<rect x="8" y="189" width="40" height="17" fill="#000"/>
<rect x="7" y="190" width="42" height="15" fill="#000"/>
<rect x="9" y="191" width="38" height="14" fill="#fff"/>
<polygon points="48.5,193.8 52.6,194 53.4,195 56.8,195.1 57.6,195.9 60.8,196 61.4,196.5 63,196.5 63,198.5 61.4,198.5 60.8,199 57.6,199.1 56.8,199.9 53.4,200 52.6,201 48.5,201.2" fill="#000" stroke="none" stroke-width="1" stroke-linejoin="miter" shape-rendering="auto"/>
<polygon points="46.6,195.8 50.8,195.9 51.3,196.95 55.4,196.95 55.4,198.05 51.3,198.05 50.8,199.1 46.6,199.2" fill="#fff" stroke="none" stroke-width="1" stroke-linejoin="miter" shape-rendering="auto"/>
<rect x="63" y="190" width="7" height="13.7" fill="#000"/>
<rect x="64" y="191" width="5" height="1" fill="#fff"/>
<rect x="65" y="197" width="4" height="1" fill="#fff"/>
<rect x="65" y="201.8" width="4" height="1" fill="#fff"/>
<rect x="9" y="215" width="38" height="18" fill="#000"/>
<rect x="8" y="216" width="40" height="16" fill="#000"/>
<rect x="7" y="217" width="42" height="14" fill="#000"/>
<rect x="9" y="217" width="38" height="14" fill="#fff"/>
<polygon points="48.5,219.8 52.6,220 53.4,221 56.8,221.1 57.6,221.9 60.8,222 61.4,222.5 63,222.5 63,224.5 61.4,224.5 60.8,225 57.6,225.1 56.8,225.9 53.4,226 52.6,227 48.5,227.2" fill="#000" stroke="none" stroke-width="1" stroke-linejoin="miter" shape-rendering="auto"/>
<polygon points="46.6,221.8 50.8,221.9 51.3,222.95 55.4,222.95 55.4,224.05 51.3,224.05 50.8,225.1 46.6,225.2" fill="#fff" stroke="none" stroke-width="1" stroke-linejoin="miter" shape-rendering="auto"/>
<rect x="63" y="217" width="7" height="13" fill="#000"/>
<rect x="65" y="222.7" width="4" height="1" fill="#fff"/>
<rect x="82" y="217" width="7" height="13" fill="#000"/>
<rect x="84" y="222.7" width="4" height="1" fill="#fff"/>
<polyline points="75,237.6 84.2,230" fill="none" stroke="#000" stroke-width="1.7" shape-rendering="auto"/>
<polyline points="78,240.8 86,230.6" fill="none" stroke="#000" stroke-width="1.7" shape-rendering="auto"/>
<rect x="47" y="237" width="30" height="18" fill="#000"/>
<rect x="46" y="238" width="32" height="16" fill="#000"/>
<rect x="45" y="239" width="34" height="14" fill="#000"/>
<rect x="47" y="239" width="30" height="14" fill="#fff"/>
<rect x="45" y="237" width="2" height="18" fill="#000"/>
<polygon points="75.5,238.6 78,241 82,236" fill="#fff" stroke="none" stroke-width="1" stroke-linejoin="miter" shape-rendering="auto"/>
<rect x="115" y="273" width="19" height="6" fill="#000"/>
<rect x="116" y="274" width="1" height="4" fill="#fff"/>
<rect x="121" y="274" width="1" height="4" fill="#fff"/>
<rect x="127" y="274" width="1" height="4" fill="#fff"/>
<rect x="129" y="275" width="3" height="2" fill="#fff"/>
<rect x="67" y="266" width="32" height="19" fill="#000"/>
<rect x="66" y="267" width="34" height="17" fill="#000"/>
<rect x="65" y="268" width="36" height="15" fill="#000"/>
<rect x="67" y="269" width="32" height="14" fill="#fff"/>
<polygon points="100.5,271.8 104.6,272 105.4,273 108.8,273.1 109.6,273.9 112.8,274 113.4,274.5 115,274.5 115,276.5 113.4,276.5 112.8,277 109.6,277.1 108.8,277.9 105.4,278 104.6,279 100.5,279.2" fill="#000" stroke="none" stroke-width="1" stroke-linejoin="miter" shape-rendering="auto"/>
<polygon points="98.6,273.8 102.8,273.9 103.3,274.95 107.4,274.95 107.4,276.05 103.3,276.05 102.8,277.1 98.6,277.2" fill="#fff" stroke="none" stroke-width="1" stroke-linejoin="miter" shape-rendering="auto"/>
<rect x="208" y="266" width="7" height="19" fill="#000"/>
<rect x="209" y="272" width="5" height="1" fill="#fff"/>
<rect x="209" y="278" width="5" height="1" fill="#fff"/>
<rect x="208" y="266" width="7" height="7" fill="#000"/>
<rect x="209" y="267" width="5" height="5" fill="#fff"/>
<rect x="210" y="268" width="3" height="3" fill="#000"/>
<rect x="211" y="269" width="1" height="1" fill="#fff"/>
<rect x="160" y="266" width="32" height="19" fill="#000"/>
<rect x="159" y="267" width="34" height="17" fill="#000"/>
<rect x="158" y="268" width="36" height="15" fill="#000"/>
<rect x="160" y="268" width="32" height="14" fill="#fff"/>
<polygon points="193.5,271.8 197.6,272 198.4,273 201.8,273.1 202.6,273.9 205.8,274 206.4,274.5 208,274.5 208,276.5 206.4,276.5 205.8,277 202.6,277.1 201.8,277.9 198.4,278 197.6,279 193.5,279.2" fill="#000" stroke="none" stroke-width="1" stroke-linejoin="miter" shape-rendering="auto"/>
<polygon points="191.6,273.8 195.8,273.9 196.3,274.95 200.4,274.95 200.4,276.05 196.3,276.05 195.8,277.1 191.6,277.2" fill="#fff" stroke="none" stroke-width="1" stroke-linejoin="miter" shape-rendering="auto"/>
<rect x="185" y="415" width="7" height="19" fill="#000"/>
<rect x="186" y="421" width="5" height="1" fill="#fff"/>
<rect x="186" y="427" width="5" height="1" fill="#fff"/>
<rect x="190" y="416" width="1" height="17" fill="#fff"/>
<rect x="186" y="428" width="5" height="5" fill="#fff"/>
<rect x="187" y="429" width="3" height="3" fill="#000"/>
<rect x="188" y="430" width="1" height="1" fill="#fff"/>
<rect x="192" y="421" width="5" height="5" fill="#000"/>
<rect x="214" y="414" width="32" height="19" fill="#000"/>
<rect x="213" y="415" width="34" height="17" fill="#000"/>
<rect x="212" y="416" width="36" height="15" fill="#000"/>
<rect x="214" y="417" width="31" height="14" fill="#fff"/>
<polygon points="212.5,419.8 208.4,420 207.6,421 204.2,421.1 203.4,421.9 199.2,422 198.6,422.5 197,422.5 197,424.5 198.6,424.5 199.2,425 203.4,425.1 204.2,425.9 207.6,426 208.4,427 212.5,427.2" fill="#000" stroke="none" stroke-width="1" stroke-linejoin="miter" shape-rendering="auto"/>
<polygon points="214.4,421.8 210.2,421.9 209.7,422.95 205.6,422.95 205.6,424.05 209.7,424.05 210.2,425.1 214.4,425.2" fill="#fff" stroke="none" stroke-width="1" stroke-linejoin="miter" shape-rendering="auto"/>
<rect x="283" y="157" width="7" height="18.5" fill="#000"/>
<rect x="283" y="157" width="7" height="7" fill="#000"/>
<rect x="284" y="158" width="5" height="5" fill="#fff"/>
<rect x="285" y="159" width="3" height="3" fill="#000"/>
<rect x="286" y="160" width="1" height="1" fill="#fff"/>
<rect x="290" y="163" width="6" height="12.5" fill="#000"/>
<rect x="284" y="164" width="5" height="1" fill="#fff"/>
<rect x="284" y="169" width="5" height="1" fill="#fff"/>
<rect x="290" y="164" width="5" height="1" fill="#fff"/>
<rect x="290" y="169" width="5" height="1" fill="#fff"/>
<rect x="288" y="159" width="1" height="16" fill="#fff"/>
<rect x="294" y="164" width="1" height="11" fill="#fff"/>
<rect x="284" y="175" width="4" height="18" fill="#000"/>
<rect x="312" y="160" width="37" height="19" fill="#000"/>
<rect x="311" y="161" width="39" height="17" fill="#000"/>
<rect x="310" y="162" width="41" height="15" fill="#000"/>
<rect x="312" y="163" width="37" height="14" fill="#fff"/>
<polygon points="310.5,165.8 306.4,166 305.6,167 302.2,167.1 301.4,167.9 298.2,168 297.6,168.5 296,168.5 296,170.5 297.6,170.5 298.2,171 301.4,171.1 302.2,171.9 305.6,172 306.4,173 310.5,173.2" fill="#000" stroke="none" stroke-width="1" stroke-linejoin="miter" shape-rendering="auto"/>
<polygon points="312.4,167.8 308.2,167.9 307.7,168.95 303.6,168.95 303.6,170.05 307.7,170.05 308.2,171.1 312.4,171.2" fill="#fff" stroke="none" stroke-width="1" stroke-linejoin="miter" shape-rendering="auto"/>
<rect x="271" y="192" width="29" height="19" fill="#000"/>
<rect x="270" y="193" width="31" height="17" fill="#000"/>
<rect x="269" y="194" width="33" height="15" fill="#000"/>
<rect x="272" y="195" width="28" height="14" fill="#fff"/>
<polygon points="282.8,193 283,188.9 284,188.1 284.1,184.7 284.9,183.9 285,177.7 285.5,177.1 285.5,175.5 287.5,175.5 287.5,177.1 288,177.7 288.1,183.9 288.9,184.7 289,188.1 290,188.9 290.2,193" fill="#000" stroke="none" stroke-width="1" stroke-linejoin="miter" shape-rendering="auto"/>
<polygon points="284.8,194.9 284.9,190.7 285.95,190.2 285.95,186.1 287.05,186.1 287.05,190.2 288.1,190.7 288.2,194.9" fill="#fff" stroke="none" stroke-width="1" stroke-linejoin="miter" shape-rendering="auto"/>
<rect x="265" y="238" width="26" height="7" fill="#000"/>
<rect x="266" y="239" width="2" height="5" fill="#fff"/>
<rect x="272" y="239" width="1" height="5" fill="#fff"/>
<rect x="278" y="239" width="1" height="5" fill="#fff"/>
<rect x="284" y="239" width="6" height="5" fill="#fff"/>
<rect x="286" y="240" width="3" height="3" fill="#000"/>
<rect x="265" y="260" width="30" height="19" fill="#000"/>
<rect x="264" y="261" width="32" height="17" fill="#000"/>
<rect x="263" y="262" width="34" height="15" fill="#000"/>
<rect x="265" y="263" width="29" height="14" fill="#fff"/>
<polygon points="275.8,261 276,256.9 277,256.1 277.1,252.7 277.9,251.9 278,247.2 278.5,246.6 278.5,245 280.5,245 280.5,246.6 281,247.2 281.1,251.9 281.9,252.7 282,256.1 283,256.9 283.2,261" fill="#000" stroke="none" stroke-width="1" stroke-linejoin="miter" shape-rendering="auto"/>
<polygon points="277.8,262.9 277.9,258.7 278.95,258.2 278.95,254.1 280.05,254.1 280.05,258.2 281.1,258.7 281.2,262.9" fill="#fff" stroke="none" stroke-width="1" stroke-linejoin="miter" shape-rendering="auto"/>
<rect x="305" y="302" width="14" height="7" fill="#000"/>
<rect x="306" y="303" width="12" height="5" fill="#fff"/>
<rect x="307" y="303" width="4" height="4" fill="#000"/>
<rect x="313" y="303" width="4" height="4" fill="#000"/>
<rect x="293" y="325" width="40" height="19" fill="#000"/>
<rect x="292" y="326" width="42" height="17" fill="#000"/>
<rect x="291" y="327" width="44" height="15" fill="#000"/>
<rect x="294" y="328" width="39" height="14" fill="#fff"/>
<polygon points="308.8,326 309,321.9 310,321.1 310.1,317.7 310.9,316.9 311,311.2 311.5,310.6 311.5,309 313.5,309 313.5,310.6 314,311.2 314.1,316.9 314.9,317.7 315,321.1 316,321.9 316.2,326" fill="#000" stroke="none" stroke-width="1" stroke-linejoin="miter" shape-rendering="auto"/>
<polygon points="310.8,327.9 310.9,323.7 311.95,323.2 311.95,319.1 313.05,319.1 313.05,323.2 314.1,323.7 314.2,327.9" fill="#fff" stroke="none" stroke-width="1" stroke-linejoin="miter" shape-rendering="auto"/>
<rect x="343" y="302" width="7" height="14" fill="#000"/>
<rect x="344" y="303" width="5" height="1" fill="#fff"/>
<rect x="344" y="308" width="5" height="2" fill="#fff"/>
<rect x="344" y="314" width="5" height="1" fill="#fff"/>
<polyline points="359.5,295.5 355,300 349.5,306" fill="none" stroke="#000" stroke-width="2.2" shape-rendering="auto"/>
<rect x="358" y="280" width="38" height="19" fill="#000"/>
<rect x="357" y="281" width="40" height="17" fill="#000"/>
<rect x="356" y="282" width="42" height="15" fill="#000"/>
<rect x="359" y="282" width="37" height="14" fill="#fff"/>
<rect x="404" y="199" width="19" height="7" fill="#000"/>
<rect x="405" y="200" width="15" height="1" fill="#fff"/>
<rect x="405" y="201" width="1" height="4" fill="#fff"/>
<rect x="407" y="202" width="2" height="2" fill="#fff"/>
<rect x="410" y="201" width="1" height="4" fill="#fff"/>
<rect x="415" y="201" width="1" height="4" fill="#fff"/>
<rect x="440" y="193" width="37" height="18" fill="#000"/>
<rect x="439" y="194" width="39" height="16" fill="#000"/>
<rect x="438" y="195" width="41" height="14" fill="#000"/>
<rect x="440" y="195" width="37" height="14" fill="#fff"/>
<polygon points="438.5,198.8 434.4,199 433.6,200 430.2,200.1 429.4,200.9 425.2,201 424.6,201.5 423,201.5 423,203.5 424.6,203.5 425.2,204 429.4,204.1 430.2,204.9 433.6,205 434.4,206 438.5,206.2" fill="#000" stroke="none" stroke-width="1" stroke-linejoin="miter" shape-rendering="auto"/>
<polygon points="440.4,200.8 436.2,200.9 435.7,201.95 431.6,201.95 431.6,203.05 435.7,203.05 436.2,204.1 440.4,204.2" fill="#fff" stroke="none" stroke-width="1" stroke-linejoin="miter" shape-rendering="auto"/>
<rect x="429" y="234" width="12" height="19" fill="#000"/>
<rect x="430" y="235" width="5" height="1" fill="#fff"/>
<rect x="436" y="235" width="4" height="1" fill="#fff"/>
<rect x="431" y="237" width="3" height="3" fill="#fff"/>
<rect x="437" y="237" width="2" height="3" fill="#fff"/>
<rect x="430" y="241" width="5" height="1" fill="#fff"/>
<rect x="436" y="241" width="4" height="1" fill="#fff"/>
<rect x="430" y="246" width="5" height="2" fill="#fff"/>
<rect x="436" y="246" width="4" height="2" fill="#fff"/>
<rect x="375" y="234" width="38" height="19" fill="#000"/>
<rect x="374" y="235" width="40" height="17" fill="#000"/>
<rect x="373" y="236" width="42" height="15" fill="#000"/>
<rect x="375" y="236" width="38" height="15" fill="#fff"/>
<polygon points="414.5,239.8 418.6,240 419.4,241 422.8,241.1 423.6,241.9 426.8,242 427.4,242.5 429,242.5 429,244.5 427.4,244.5 426.8,245 423.6,245.1 422.8,245.9 419.4,246 418.6,247 414.5,247.2" fill="#000" stroke="none" stroke-width="1" stroke-linejoin="miter" shape-rendering="auto"/>
<polygon points="412.6,241.8 416.8,241.9 417.3,242.95 421.4,242.95 421.4,244.05 417.3,244.05 416.8,245.1 412.6,245.2" fill="#fff" stroke="none" stroke-width="1" stroke-linejoin="miter" shape-rendering="auto"/>
<rect x="458" y="234" width="38" height="19" fill="#000"/>
<rect x="457" y="235" width="40" height="17" fill="#000"/>
<rect x="456" y="236" width="42" height="15" fill="#000"/>
<rect x="458" y="236" width="38" height="15" fill="#fff"/>
<polygon points="456.5,239.8 452.4,240 451.6,241 448.2,241.1 447.4,241.9 443.2,242 442.6,242.5 441,242.5 441,244.5 442.6,244.5 443.2,245 447.4,245.1 448.2,245.9 451.6,246 452.4,247 456.5,247.2" fill="#000" stroke="none" stroke-width="1" stroke-linejoin="miter" shape-rendering="auto"/>
<polygon points="458.4,241.8 454.2,241.9 453.7,242.95 449.6,242.95 449.6,244.05 453.7,244.05 454.2,245.1 458.4,245.2" fill="#fff" stroke="none" stroke-width="1" stroke-linejoin="miter" shape-rendering="auto"/>
<rect x="699" y="286" width="19" height="6.6" fill="#000"/>
<rect x="705" y="287" width="1" height="4.6" fill="#fff"/>
<rect x="712" y="287" width="1" height="4.6" fill="#fff"/>
<rect x="711" y="286" width="7" height="6.6" fill="#000"/>
<rect x="712" y="287" width="5" height="4.6" fill="#fff"/>
<rect x="713" y="288" width="3" height="2.6" fill="#000"/>
<rect x="706" y="287" width="1" height="5" fill="#fff"/>
<rect x="702.5" y="288" width="1" height="3" fill="#fff"/>
<rect x="644" y="280" width="38" height="19" fill="#000"/>
<rect x="643" y="281" width="40" height="17" fill="#000"/>
<rect x="642" y="282" width="42" height="15" fill="#000"/>
<rect x="645" y="282" width="37" height="14" fill="#fff"/>
<polygon points="683.5,285.8 687.6,286 688.4,287 691.8,287.1 692.6,287.9 696.8,288 697.4,288.5 699,288.5 699,290.5 697.4,290.5 696.8,291 692.6,291.1 691.8,291.9 688.4,292 687.6,293 683.5,293.2" fill="#000" stroke="none" stroke-width="1" stroke-linejoin="miter" shape-rendering="auto"/>
<polygon points="681.6,287.8 685.8,287.9 686.3,288.95 690.4,288.95 690.4,290.05 686.3,290.05 685.8,291.1 681.6,291.2" fill="#fff" stroke="none" stroke-width="1" stroke-linejoin="miter" shape-rendering="auto"/>
<rect x="626" y="374" width="7" height="14" fill="#000"/>
<rect x="627" y="375" width="5" height="1" fill="#fff"/>
<rect x="631" y="375" width="1" height="12" fill="#fff"/>
<rect x="627" y="386" width="5" height="1" fill="#fff"/>
<rect x="627" y="380" width="5" height="1" fill="#fff"/>
<rect x="572" y="372" width="37" height="18" fill="#000"/>
<rect x="571" y="373" width="39" height="16" fill="#000"/>
<rect x="570" y="374" width="41" height="14" fill="#000"/>
<rect x="572" y="374" width="37" height="13" fill="#fff"/>
<polygon points="610.5,376.8 614.6,377 615.4,378 618.8,378.1 619.6,378.9 623.8,379 624.4,379.5 626,379.5 626,381.5 624.4,381.5 623.8,382 619.6,382.1 618.8,382.9 615.4,383 614.6,384 610.5,384.2" fill="#000" stroke="none" stroke-width="1" stroke-linejoin="miter" shape-rendering="auto"/>
<polygon points="608.6,378.8 612.8,378.9 613.3,379.95 617.4,379.95 617.4,381.05 613.3,381.05 612.8,382.1 608.6,382.2" fill="#fff" stroke="none" stroke-width="1" stroke-linejoin="miter" shape-rendering="auto"/>
<rect x="640" y="374" width="26" height="7" fill="#000"/>
<rect x="641" y="375" width="1" height="5" fill="#fff"/>
<rect x="641" y="379" width="24" height="1" fill="#fff"/>
<rect x="664" y="375" width="1" height="5" fill="#fff"/>
<rect x="647" y="375" width="1" height="4" fill="#fff"/>
<rect x="652" y="375" width="1" height="4" fill="#fff"/>
<rect x="657" y="375" width="1" height="4" fill="#fff"/>
<rect x="661" y="376" width="2" height="2" fill="#fff"/>
<rect x="682" y="368" width="38" height="19" fill="#000"/>
<rect x="681" y="369" width="40" height="17" fill="#000"/>
<rect x="680" y="370" width="42" height="15" fill="#000"/>
<rect x="683" y="370" width="37" height="14" fill="#fff"/>
<polygon points="680.5,373.8 676.4,374 675.6,375 672.2,375.1 671.4,375.9 668.2,376 667.6,376.5 666,376.5 666,378.5 667.6,378.5 668.2,379 671.4,379.1 672.2,379.9 675.6,380 676.4,381 680.5,381.2" fill="#000" stroke="none" stroke-width="1" stroke-linejoin="miter" shape-rendering="auto"/>
<polygon points="682.4,375.8 678.2,375.9 677.7,376.95 673.6,376.95 673.6,378.05 677.7,378.05 678.2,379.1 682.4,379.2" fill="#fff" stroke="none" stroke-width="1" stroke-linejoin="miter" shape-rendering="auto"/>
<g filter="url(#tb)" stroke-width="0.22" style="vector-effect:non-scaling-stroke">
<text transform="scale(0.68,1)" x="368.51 381.22 393.07" y="48" font-size="14.53" fill="#000" stroke="#000">SL1</text>
<text transform="scale(0.68,1)" x="367.04 381.22 393.45" y="93" font-size="14.53" fill="#000" stroke="#000">SL2</text>
<text transform="scale(0.7,1)" x="801.84 814.7 826.55 836.69 846.68 856.68" y="71" font-size="13.08" fill="#000" stroke="#000">MH2055</text>
<text transform="scale(0.68,1)" x="225.79 241.51 256.29" y="178" font-size="14.53" fill="#000" stroke="#000">CPU</text>
<text transform="scale(0.68,1)" x="155.62 166.21 178.74" y="317" font-size="14.53" fill="#000" stroke="#000">TAG</text>
<text transform="scale(0.68,1)" x="137.1 150.03 163.57 176.81 190.05 198.02" y="346" font-size="14.53" fill="#000" stroke="#000">BANK 0</text>
<text transform="scale(0.68,1)" x="137.1 150.03 163.57 176.81 190.17 197.48" y="372" font-size="14.53" fill="#000" stroke="#000">BANK 1</text>
<text transform="scale(0.68,1)" x="137.1 150.03 163.57 176.81 190.05 198.02" y="398" font-size="14.53" fill="#000" stroke="#000">BANK 0</text>
<text transform="scale(0.68,1)" x="137.1 150.03 163.57 176.81 190.17 197.48" y="425" font-size="14.53" fill="#000" stroke="#000">BANK 1</text>
<text transform="scale(0.68,1)" x="137.1 150.03 163.57 176.81 190.05 198.02" y="450" font-size="14.53" fill="#000" stroke="#000">BANK 0</text>
<text transform="scale(0.68,1)" x="137.1 150.03 163.57 176.81 190.17 197.48" y="477" font-size="14.53" fill="#000" stroke="#000">BANK 1</text>
<text transform="scale(0.68,1)" x="137.1 150.03 163.57 176.81 190.05 198.02" y="503" font-size="14.53" fill="#000" stroke="#000">BANK 0</text>
<text transform="scale(0.68,1)" x="137.1 150.03 163.57 176.81 190.17 197.48" y="530" font-size="14.53" fill="#000" stroke="#000">BANK 1</text>
<text transform="scale(0.68,1)" x="14.02 29.44 40.49 56.22 69.46" y="413" font-size="14.53" fill="#000" stroke="#000">CACHE</text>
<text transform="scale(0.68,1)" x="562.1 575.03 588.57 603.28 616.29 624.49" y="416" font-size="14.53" fill="#000" stroke="#000">BANK 0</text>
<text transform="scale(0.68,1)" x="560.63 573.56 587.1 601.81 615.58 623.95" y="496" font-size="14.53" fill="#000" stroke="#000">BANK 1</text>
<text transform="scale(0.68,1)" x="790.04 803.13 808.2 822.92" y="491" font-size="14.53" fill="#000" stroke="#000">BIOS</text>
<text transform="scale(0.68,1)" x="867.99 881.22 894.46" y="473" font-size="14.53" fill="#000" stroke="#000">KBD</text>
<text transform="scale(0.68,1)" x="159.02 165.04 178.92" y="48" font-size="14.53" fill="#000" stroke="#000">ID3</text>
<text transform="scale(0.68,1)" x="266.37 270.93 286.1" y="28" font-size="14.53" fill="#000" stroke="#000">ID2</text>
<text transform="scale(0.68,1)" x="182.18 192.99 205.39 217.15" y="93" font-size="14.53" fill="#000" stroke="#000">JP33</text>
<text transform="scale(0.74,1)" x="114.42" y="94" font-size="13.08" fill="#000" stroke="#000">3</text>
<text transform="scale(0.74,1)" x="140.29" y="103" font-size="13.08" fill="#000" stroke="#000">4</text>
<text transform="scale(0.68,1)" x="18.94 29.75 43.07 52.45" y="109" font-size="14.53" fill="#000" stroke="#000">JP13</text>
<text transform="scale(0.68,1)" x="20.41 31.22 43.07 53.37" y="147" font-size="14.53" fill="#000" stroke="#000">JP11</text>
<text transform="scale(0.68,1)" x="18.94 29.75 42.02 52.42" y="175" font-size="14.53" fill="#000" stroke="#000">JP95</text>
<text transform="scale(0.68,1)" x="17.47 28.28 40.13 50.96" y="201" font-size="14.53" fill="#000" stroke="#000">JP10</text>
<text transform="scale(0.68,1)" x="18.94 29.75 43.07 52.42" y="228" font-size="14.53" fill="#000" stroke="#000">JP15</text>
<text transform="scale(0.68,1)" x="74.83 85.63 98.25" y="250" font-size="14.53" fill="#000" stroke="#000">JP4</text>
<text transform="scale(0.68,1)" x="104.24 115.04 127.26" y="279" font-size="14.53" fill="#000" stroke="#000">JP7</text>
<text transform="scale(0.68,1)" x="243.94 254.75 267.15" y="279" font-size="14.53" fill="#000" stroke="#000">JP3</text>
<text transform="scale(0.68,1)" x="321.89 332.69 345.02" y="427" font-size="14.53" fill="#000" stroke="#000">JP8</text>
<text transform="scale(0.74,1)" x="249.75" y="413" font-size="13.08" fill="#000" stroke="#000">4</text>
<text transform="scale(0.74,1)" x="241.29" y="427" font-size="13.08" fill="#000" stroke="#000">2</text>
<text transform="scale(0.68,1)" x="464.53 475.34 487.71 498.56" y="173" font-size="14.53" fill="#000" stroke="#000">JP5A</text>
<text transform="scale(0.68,1)" x="402.77 413.57 425.95" y="205" font-size="14.53" fill="#000" stroke="#000">JP5</text>
<text transform="scale(0.74,1)" x="398.4" y="164" font-size="13.08" fill="#000" stroke="#000">4</text>
<text transform="scale(0.74,1)" x="373.88" y="180" font-size="13.08" fill="#000" stroke="#000">3</text>
<text transform="scale(0.74,1)" x="399.53" y="180" font-size="13.08" fill="#000" stroke="#000">5</text>
<text transform="scale(0.68,1)" x="393.94 404.75 415.51" y="273" font-size="14.53" fill="#000" stroke="#000">JP2</text>
<text transform="scale(0.68,1)" x="438.06 448.87 461.27 471.38" y="338" font-size="14.53" fill="#000" stroke="#000">JP36</text>
<text transform="scale(0.68,1)" x="532.18 542.99 555.2 566.98" y="292" font-size="14.53" fill="#000" stroke="#000">JP72</text>
<text transform="scale(0.68,1)" x="651.3 662.1 674.33 686.79" y="205" font-size="14.53" fill="#000" stroke="#000">JP2A</text>
<text transform="scale(0.68,1)" x="555.71 566.51 580.39 592.08" y="247" font-size="14.53" fill="#000" stroke="#000">JP38</text>
<text transform="scale(0.68,1)" x="679.24 690.04 702.45 714.02" y="247" font-size="14.53" fill="#000" stroke="#000">JP37</text>
<text transform="scale(0.68,1)" x="952.77 963.57 975.43 987.55" y="292" font-size="14.53" fill="#000" stroke="#000">JP16</text>
<text transform="scale(0.68,1)" x="846.89 857.69 871.01 881.69" y="384" font-size="14.53" fill="#000" stroke="#000">JP12</text>
<text transform="scale(0.68,1)" x="1008.65 1019.46 1034.25 1043.44" y="380" font-size="14.53" fill="#000" stroke="#000">JP17</text>
<text transform="scale(0.9,1)" x="217.79 230.95 246.51" y="256" font-size="16" fill="#fff" stroke="#fff" stroke-width="0">AMP</text>
</g>
</g>
</svg>
</body></html>
